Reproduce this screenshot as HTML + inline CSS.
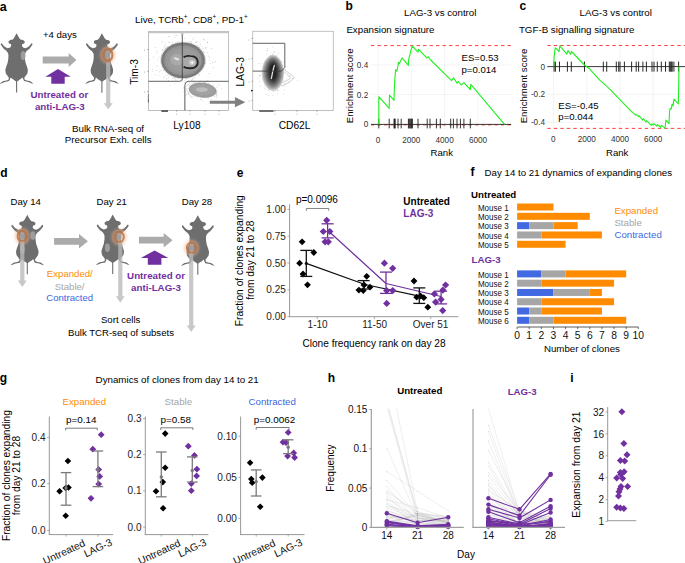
<!DOCTYPE html>
<html><head><meta charset="utf-8"><style>
html,body{margin:0;padding:0;background:#fff;}
svg{display:block;}
text{font-family:"Liberation Sans", sans-serif;}
</style></head><body>
<svg width="685" height="563" viewBox="0 0 685 563">
<defs><filter id="blur" x="-50%" y="-50%" width="200%" height="200%"><feGaussianBlur stdDeviation="0.5"/></filter><filter id="blur2" x="-50%" y="-50%" width="200%" height="200%"><feGaussianBlur stdDeviation="1.5"/></filter><filter id="blur3" x="-50%" y="-50%" width="200%" height="200%"><feGaussianBlur stdDeviation="0.75"/></filter></defs>
<rect width="685" height="563" fill="#fff"/>
<text x="-0.2" y="11.2" font-size="12.5" font-weight="700" fill="#000" text-anchor="start">a</text>
<path d="M16.60,33.20 L18.10,35.95 L19.35,38.20 L20.80,39.70 L22.10,39.80 L23.30,40.20 L24.40,41.00 L24.80,42.10 L24.30,43.20 L23.60,43.70 L22.30,44.10 L22.00,45.20 L22.20,46.20 L23.00,47.40 L25.60,48.20 L28.10,47.00 L29.80,45.40 L31.00,43.70 L31.90,43.20 L32.50,44.00 L32.30,45.10 L31.50,46.10 L29.30,48.90 L26.80,50.80 L25.60,52.50 L24.80,54.20 L24.80,58.00 L25.50,62.50 L27.00,66.70 L27.90,70.00 L27.40,73.40 L25.50,76.10 L24.40,77.50 L24.60,79.50 L26.60,80.40 L29.80,80.90 L31.80,82.20 L33.30,83.70 L31.90,83.50 L28.40,82.00 L24.10,81.10 L23.00,78.80 L22.60,77.50 L20.60,79.10 L18.50,80.50 L17.15,81.40 L17.15,92.60 L16.05,92.60 L16.05,81.40 L14.70,80.50 L12.60,79.10 L10.60,77.50 L10.20,78.80 L9.10,81.10 L4.80,82.00 L1.30,83.50 L-0.10,83.70 L1.40,82.20 L3.40,80.90 L6.60,80.40 L8.60,79.50 L8.80,77.50 L7.70,76.10 L5.80,73.40 L5.30,70.00 L6.20,66.70 L7.70,62.50 L8.40,58.00 L8.40,54.20 L7.60,52.50 L6.40,50.80 L3.90,48.90 L1.70,46.10 L0.90,45.10 L0.70,44.00 L1.30,43.20 L2.20,43.70 L3.40,45.40 L5.10,47.00 L7.60,48.20 L10.20,47.40 L11.00,46.20 L11.20,45.20 L10.90,44.10 L9.60,43.70 L8.90,43.20 L8.40,42.10 L8.80,41.00 L9.90,40.20 L11.10,39.80 L12.40,39.70 L13.85,38.20 L15.10,35.95 L16.60,33.20Z" fill="#6e6e6e"/>
<ellipse cx="23.1" cy="55.6" rx="2.4" ry="4.5" fill="#9d9d9d"/>
<text x="42.9" y="38.3" font-size="9.6" font-weight="400" fill="#000" text-anchor="start">+4 days</text>
<polygon points="42.70,56.60 68.70,56.60 68.70,53.10 76.40,60.10 68.70,67.10 68.70,63.60 42.70,63.60" fill="#ababab"/>
<polygon points="51.30,83.70 64.70,83.70 64.70,76.70 70.70,76.70 58.00,69.00 45.30,76.70 51.30,76.70" fill="#7030a0"/>
<text x="59.4" y="97.6" font-size="9.75" font-weight="700" fill="#7030a0" text-anchor="middle">Untreated or</text>
<text x="59.8" y="109.5" font-size="9.75" font-weight="700" fill="#7030a0" text-anchor="middle">anti-LAG-3</text>
<path d="M101.90,33.30 L103.40,36.05 L104.65,38.30 L106.10,39.80 L107.40,39.90 L108.60,40.30 L109.70,41.10 L110.10,42.20 L109.60,43.30 L108.90,43.80 L107.60,44.20 L107.30,45.30 L107.50,46.30 L108.30,47.50 L110.90,48.30 L113.40,47.10 L115.10,45.50 L116.30,43.80 L117.20,43.30 L117.80,44.10 L117.60,45.20 L116.80,46.20 L114.60,49.00 L112.10,50.90 L110.90,52.60 L110.10,54.30 L110.10,58.10 L110.80,62.60 L112.30,66.80 L113.20,70.10 L112.70,73.50 L110.80,76.20 L109.70,77.60 L109.90,79.60 L111.90,80.50 L115.10,81.00 L117.10,82.30 L118.60,83.80 L117.20,83.60 L113.70,82.10 L109.40,81.20 L108.30,78.90 L107.90,77.60 L105.90,79.20 L103.80,80.60 L102.45,81.50 L102.45,92.70 L101.35,92.70 L101.35,81.50 L100.00,80.60 L97.90,79.20 L95.90,77.60 L95.50,78.90 L94.40,81.20 L90.10,82.10 L86.60,83.60 L85.20,83.80 L86.70,82.30 L88.70,81.00 L91.90,80.50 L93.90,79.60 L94.10,77.60 L93.00,76.20 L91.10,73.50 L90.60,70.10 L91.50,66.80 L93.00,62.60 L93.70,58.10 L93.70,54.30 L92.90,52.60 L91.70,50.90 L89.20,49.00 L87.00,46.20 L86.20,45.20 L86.00,44.10 L86.60,43.30 L87.50,43.80 L88.70,45.50 L90.40,47.10 L92.90,48.30 L95.50,47.50 L96.30,46.30 L96.50,45.30 L96.20,44.20 L94.90,43.80 L94.20,43.30 L93.70,42.20 L94.10,41.10 L95.20,40.30 L96.40,39.90 L97.70,39.80 L99.15,38.30 L100.40,36.05 L101.90,33.30Z" fill="#6e6e6e"/>
<ellipse cx="107.7" cy="55.1" rx="2.6" ry="4.5" fill="#9d9d9d"/>
<ellipse cx="107.7" cy="55.0" rx="5.5" ry="6.8" fill="none" stroke="#eeb088" stroke-width="4.0" stroke-opacity="0.6" filter="url(#blur2)"/>
<ellipse cx="107.7" cy="55.0" rx="4.7" ry="6.0" fill="none" stroke="#bb7344" stroke-width="2.1" stroke-opacity="0.85" filter="url(#blur3)"/>
<polygon points="106.10,62.60 110.30,62.60 110.30,103.20 112.70,103.20 108.20,109.20 103.70,103.20 106.10,103.20" fill="#b8b8b8" fill-opacity="0.78"/>
<text x="108.0" y="132.0" font-size="9.75" font-weight="400" fill="#000" text-anchor="middle">Bulk RNA-seq of</text>
<text x="108.2" y="142.8" font-size="9.75" font-weight="400" fill="#000" text-anchor="middle">Precursor Exh. cells</text>
<text x="135.0" y="22.8" font-size="9.8" font-weight="400" fill="#000" text-anchor="start">Live, TCRb<tspan font-size="6.3" dy="-3.8">+</tspan><tspan dy="3.8">, CD8</tspan><tspan font-size="6.3" dy="-3.8">+</tspan><tspan dy="3.8">, PD-1</tspan><tspan font-size="6.3" dy="-3.8">+</tspan></text>
<rect x="148.5" y="31.3" width="80.2" height="79" fill="none" stroke="#9a9a9a" stroke-width="0.6"/>
<rect x="148.50" y="31.10" width="80.20" height="2.10" fill="#c4c4c4"/>
<circle cx="185.04" cy="82.39" r="0.35" fill="#555" fill-opacity="0.7"/>
<circle cx="163.99" cy="76.98" r="0.35" fill="#555" fill-opacity="0.7"/>
<circle cx="167.03" cy="47.56" r="0.35" fill="#555" fill-opacity="0.7"/>
<circle cx="214.02" cy="62.68" r="0.35" fill="#555" fill-opacity="0.7"/>
<circle cx="181.60" cy="79.80" r="0.35" fill="#555" fill-opacity="0.7"/>
<circle cx="209.12" cy="60.02" r="0.35" fill="#555" fill-opacity="0.7"/>
<circle cx="196.54" cy="42.46" r="0.35" fill="#555" fill-opacity="0.7"/>
<circle cx="168.13" cy="46.24" r="0.35" fill="#555" fill-opacity="0.7"/>
<circle cx="162.08" cy="41.44" r="0.35" fill="#555" fill-opacity="0.7"/>
<circle cx="153.63" cy="57.12" r="0.35" fill="#555" fill-opacity="0.7"/>
<circle cx="172.25" cy="44.44" r="0.35" fill="#555" fill-opacity="0.7"/>
<circle cx="184.43" cy="38.29" r="0.35" fill="#555" fill-opacity="0.7"/>
<circle cx="175.86" cy="77.91" r="0.35" fill="#555" fill-opacity="0.7"/>
<circle cx="200.36" cy="44.78" r="0.35" fill="#555" fill-opacity="0.7"/>
<circle cx="176.82" cy="35.39" r="0.35" fill="#555" fill-opacity="0.7"/>
<circle cx="175.75" cy="35.02" r="0.35" fill="#555" fill-opacity="0.7"/>
<circle cx="158.85" cy="75.76" r="0.35" fill="#555" fill-opacity="0.7"/>
<circle cx="152.28" cy="69.61" r="0.35" fill="#555" fill-opacity="0.7"/>
<circle cx="199.54" cy="47.86" r="0.35" fill="#555" fill-opacity="0.7"/>
<circle cx="198.52" cy="75.02" r="0.35" fill="#555" fill-opacity="0.7"/>
<circle cx="208.14" cy="56.12" r="0.35" fill="#555" fill-opacity="0.7"/>
<circle cx="165.96" cy="46.52" r="0.35" fill="#555" fill-opacity="0.7"/>
<circle cx="157.83" cy="59.67" r="0.35" fill="#555" fill-opacity="0.7"/>
<circle cx="166.69" cy="78.54" r="0.35" fill="#555" fill-opacity="0.7"/>
<circle cx="155.23" cy="47.46" r="0.35" fill="#555" fill-opacity="0.7"/>
<circle cx="169.50" cy="36.62" r="0.35" fill="#555" fill-opacity="0.7"/>
<circle cx="203.83" cy="39.27" r="0.35" fill="#555" fill-opacity="0.7"/>
<circle cx="171.97" cy="44.05" r="0.35" fill="#555" fill-opacity="0.7"/>
<circle cx="204.24" cy="40.00" r="0.35" fill="#555" fill-opacity="0.7"/>
<circle cx="205.57" cy="48.14" r="0.35" fill="#555" fill-opacity="0.7"/>
<circle cx="177.68" cy="42.01" r="0.35" fill="#555" fill-opacity="0.7"/>
<circle cx="196.44" cy="41.30" r="0.35" fill="#555" fill-opacity="0.7"/>
<circle cx="178.06" cy="78.50" r="0.35" fill="#555" fill-opacity="0.7"/>
<circle cx="203.40" cy="39.03" r="0.35" fill="#555" fill-opacity="0.7"/>
<circle cx="208.95" cy="73.65" r="0.35" fill="#555" fill-opacity="0.7"/>
<circle cx="163.41" cy="70.59" r="0.35" fill="#555" fill-opacity="0.7"/>
<circle cx="174.81" cy="84.01" r="0.35" fill="#555" fill-opacity="0.7"/>
<circle cx="198.76" cy="47.49" r="0.35" fill="#555" fill-opacity="0.7"/>
<circle cx="166.00" cy="48.55" r="0.35" fill="#555" fill-opacity="0.7"/>
<circle cx="178.15" cy="41.06" r="0.35" fill="#555" fill-opacity="0.7"/>
<circle cx="207.50" cy="42.20" r="0.35" fill="#555" fill-opacity="0.7"/>
<circle cx="149.29" cy="59.67" r="0.35" fill="#555" fill-opacity="0.7"/>
<circle cx="174.67" cy="77.72" r="0.35" fill="#555" fill-opacity="0.7"/>
<circle cx="164.73" cy="49.89" r="0.35" fill="#555" fill-opacity="0.7"/>
<circle cx="191.26" cy="80.06" r="0.35" fill="#555" fill-opacity="0.7"/>
<circle cx="165.17" cy="48.60" r="0.35" fill="#555" fill-opacity="0.7"/>
<circle cx="213.48" cy="67.33" r="0.35" fill="#555" fill-opacity="0.7"/>
<circle cx="170.09" cy="85.22" r="0.35" fill="#555" fill-opacity="0.7"/>
<circle cx="203.00" cy="48.32" r="0.35" fill="#555" fill-opacity="0.7"/>
<circle cx="157.10" cy="65.92" r="0.35" fill="#555" fill-opacity="0.7"/>
<circle cx="165.89" cy="43.01" r="0.35" fill="#555" fill-opacity="0.7"/>
<circle cx="156.92" cy="52.36" r="0.35" fill="#555" fill-opacity="0.7"/>
<circle cx="207.73" cy="52.77" r="0.35" fill="#555" fill-opacity="0.7"/>
<circle cx="156.33" cy="70.56" r="0.35" fill="#555" fill-opacity="0.7"/>
<circle cx="184.89" cy="80.24" r="0.35" fill="#555" fill-opacity="0.7"/>
<circle cx="209.47" cy="57.59" r="0.35" fill="#555" fill-opacity="0.7"/>
<circle cx="161.52" cy="55.14" r="0.35" fill="#555" fill-opacity="0.7"/>
<circle cx="159.34" cy="71.89" r="0.35" fill="#555" fill-opacity="0.7"/>
<circle cx="210.71" cy="63.44" r="0.35" fill="#555" fill-opacity="0.7"/>
<circle cx="167.71" cy="47.06" r="0.35" fill="#555" fill-opacity="0.7"/>
<circle cx="164.83" cy="45.46" r="0.35" fill="#555" fill-opacity="0.7"/>
<circle cx="172.32" cy="42.45" r="0.35" fill="#555" fill-opacity="0.7"/>
<circle cx="175.08" cy="37.50" r="0.35" fill="#555" fill-opacity="0.7"/>
<circle cx="205.45" cy="63.15" r="0.35" fill="#555" fill-opacity="0.7"/>
<circle cx="168.15" cy="36.64" r="0.35" fill="#555" fill-opacity="0.7"/>
<circle cx="182.82" cy="81.60" r="0.35" fill="#555" fill-opacity="0.7"/>
<circle cx="162.51" cy="49.69" r="0.35" fill="#555" fill-opacity="0.7"/>
<circle cx="166.94" cy="75.53" r="0.35" fill="#555" fill-opacity="0.7"/>
<circle cx="164.17" cy="77.00" r="0.35" fill="#555" fill-opacity="0.7"/>
<circle cx="175.18" cy="79.90" r="0.35" fill="#555" fill-opacity="0.7"/>
<circle cx="186.15" cy="42.54" r="0.35" fill="#555" fill-opacity="0.7"/>
<circle cx="156.17" cy="50.51" r="0.35" fill="#555" fill-opacity="0.7"/>
<circle cx="174.28" cy="78.41" r="0.35" fill="#555" fill-opacity="0.7"/>
<circle cx="190.90" cy="42.43" r="0.35" fill="#555" fill-opacity="0.7"/>
<circle cx="192.86" cy="79.82" r="0.35" fill="#555" fill-opacity="0.7"/>
<circle cx="175.67" cy="43.08" r="0.35" fill="#555" fill-opacity="0.7"/>
<circle cx="172.22" cy="78.55" r="0.35" fill="#555" fill-opacity="0.7"/>
<circle cx="195.91" cy="42.56" r="0.35" fill="#555" fill-opacity="0.7"/>
<circle cx="197.33" cy="45.76" r="0.35" fill="#555" fill-opacity="0.7"/>
<circle cx="168.28" cy="80.25" r="0.35" fill="#555" fill-opacity="0.7"/>
<circle cx="202.42" cy="46.73" r="0.35" fill="#555" fill-opacity="0.7"/>
<circle cx="186.59" cy="78.95" r="0.35" fill="#555" fill-opacity="0.7"/>
<circle cx="159.97" cy="57.09" r="0.35" fill="#555" fill-opacity="0.7"/>
<circle cx="193.87" cy="37.00" r="0.35" fill="#555" fill-opacity="0.7"/>
<circle cx="192.79" cy="78.46" r="0.35" fill="#555" fill-opacity="0.7"/>
<circle cx="192.95" cy="39.18" r="0.35" fill="#555" fill-opacity="0.7"/>
<circle cx="191.58" cy="41.79" r="0.35" fill="#555" fill-opacity="0.7"/>
<circle cx="199.65" cy="74.89" r="0.35" fill="#555" fill-opacity="0.7"/>
<circle cx="189.55" cy="41.85" r="0.35" fill="#555" fill-opacity="0.7"/>
<circle cx="168.47" cy="77.58" r="0.35" fill="#555" fill-opacity="0.7"/>
<circle cx="160.72" cy="70.54" r="0.35" fill="#555" fill-opacity="0.7"/>
<circle cx="203.37" cy="51.63" r="0.35" fill="#555" fill-opacity="0.7"/>
<circle cx="215.79" cy="61.38" r="0.35" fill="#555" fill-opacity="0.7"/>
<circle cx="207.44" cy="42.03" r="0.35" fill="#555" fill-opacity="0.7"/>
<circle cx="152.84" cy="71.27" r="0.35" fill="#555" fill-opacity="0.7"/>
<circle cx="204.25" cy="52.16" r="0.35" fill="#555" fill-opacity="0.7"/>
<circle cx="182.12" cy="35.45" r="0.35" fill="#555" fill-opacity="0.7"/>
<circle cx="169.12" cy="42.15" r="0.35" fill="#555" fill-opacity="0.7"/>
<circle cx="176.99" cy="80.01" r="0.35" fill="#555" fill-opacity="0.7"/>
<circle cx="186.20" cy="78.78" r="0.35" fill="#555" fill-opacity="0.7"/>
<circle cx="162.43" cy="50.24" r="0.35" fill="#555" fill-opacity="0.7"/>
<circle cx="191.35" cy="43.61" r="0.35" fill="#555" fill-opacity="0.7"/>
<circle cx="206.84" cy="47.25" r="0.35" fill="#555" fill-opacity="0.7"/>
<circle cx="211.45" cy="48.66" r="0.35" fill="#555" fill-opacity="0.7"/>
<circle cx="205.16" cy="47.52" r="0.35" fill="#555" fill-opacity="0.7"/>
<circle cx="212.64" cy="62.58" r="0.35" fill="#555" fill-opacity="0.7"/>
<circle cx="194.48" cy="77.97" r="0.35" fill="#555" fill-opacity="0.7"/>
<circle cx="169.06" cy="42.10" r="0.35" fill="#555" fill-opacity="0.7"/>
<circle cx="154.95" cy="74.26" r="0.35" fill="#555" fill-opacity="0.7"/>
<circle cx="164.15" cy="47.63" r="0.35" fill="#555" fill-opacity="0.7"/>
<circle cx="202.30" cy="100.84" r="0.35" fill="#555" fill-opacity="0.7"/>
<circle cx="183.95" cy="91.66" r="0.35" fill="#555" fill-opacity="0.7"/>
<circle cx="193.87" cy="96.56" r="0.35" fill="#555" fill-opacity="0.7"/>
<circle cx="183.88" cy="87.95" r="0.35" fill="#555" fill-opacity="0.7"/>
<circle cx="211.58" cy="99.25" r="0.35" fill="#555" fill-opacity="0.7"/>
<circle cx="219.41" cy="85.31" r="0.35" fill="#555" fill-opacity="0.7"/>
<circle cx="208.84" cy="83.39" r="0.35" fill="#555" fill-opacity="0.7"/>
<circle cx="189.05" cy="82.50" r="0.35" fill="#555" fill-opacity="0.7"/>
<circle cx="216.86" cy="92.71" r="0.35" fill="#555" fill-opacity="0.7"/>
<circle cx="200.66" cy="99.19" r="0.35" fill="#555" fill-opacity="0.7"/>
<circle cx="188.19" cy="94.31" r="0.35" fill="#555" fill-opacity="0.7"/>
<circle cx="204.92" cy="82.70" r="0.35" fill="#555" fill-opacity="0.7"/>
<circle cx="216.07" cy="92.82" r="0.35" fill="#555" fill-opacity="0.7"/>
<circle cx="212.61" cy="95.61" r="0.35" fill="#555" fill-opacity="0.7"/>
<circle cx="221.88" cy="88.52" r="0.35" fill="#555" fill-opacity="0.7"/>
<circle cx="216.73" cy="94.81" r="0.35" fill="#555" fill-opacity="0.7"/>
<circle cx="196.47" cy="97.77" r="0.35" fill="#555" fill-opacity="0.7"/>
<circle cx="192.11" cy="97.90" r="0.35" fill="#555" fill-opacity="0.7"/>
<circle cx="189.32" cy="85.84" r="0.35" fill="#555" fill-opacity="0.7"/>
<circle cx="208.14" cy="97.95" r="0.35" fill="#555" fill-opacity="0.7"/>
<circle cx="214.64" cy="96.64" r="0.35" fill="#555" fill-opacity="0.7"/>
<circle cx="199.29" cy="81.90" r="0.35" fill="#555" fill-opacity="0.7"/>
<circle cx="215.34" cy="94.00" r="0.35" fill="#555" fill-opacity="0.7"/>
<circle cx="190.51" cy="96.91" r="0.35" fill="#555" fill-opacity="0.7"/>
<circle cx="205.78" cy="81.89" r="0.35" fill="#555" fill-opacity="0.7"/>
<circle cx="208.11" cy="81.22" r="0.35" fill="#555" fill-opacity="0.7"/>
<circle cx="188.43" cy="93.73" r="0.35" fill="#555" fill-opacity="0.7"/>
<circle cx="184.48" cy="90.44" r="0.35" fill="#555" fill-opacity="0.7"/>
<circle cx="186.76" cy="94.89" r="0.35" fill="#555" fill-opacity="0.7"/>
<circle cx="188.20" cy="92.16" r="0.35" fill="#555" fill-opacity="0.7"/>
<circle cx="185.00" cy="88.01" r="0.35" fill="#555" fill-opacity="0.7"/>
<circle cx="216.95" cy="93.96" r="0.35" fill="#555" fill-opacity="0.7"/>
<circle cx="184.93" cy="95.02" r="0.35" fill="#555" fill-opacity="0.7"/>
<circle cx="216.98" cy="86.91" r="0.35" fill="#555" fill-opacity="0.7"/>
<circle cx="217.76" cy="84.05" r="0.35" fill="#555" fill-opacity="0.7"/>
<circle cx="201.36" cy="98.98" r="0.35" fill="#555" fill-opacity="0.7"/>
<circle cx="216.29" cy="97.46" r="0.35" fill="#555" fill-opacity="0.7"/>
<circle cx="192.21" cy="81.02" r="0.35" fill="#555" fill-opacity="0.7"/>
<circle cx="207.30" cy="80.87" r="0.35" fill="#555" fill-opacity="0.7"/>
<circle cx="200.87" cy="81.04" r="0.35" fill="#555" fill-opacity="0.7"/>
<circle cx="216.28" cy="95.82" r="0.35" fill="#555" fill-opacity="0.7"/>
<circle cx="216.97" cy="90.44" r="0.35" fill="#555" fill-opacity="0.7"/>
<circle cx="204.74" cy="82.65" r="0.35" fill="#555" fill-opacity="0.7"/>
<circle cx="214.52" cy="94.41" r="0.35" fill="#555" fill-opacity="0.7"/>
<circle cx="213.22" cy="84.82" r="0.35" fill="#555" fill-opacity="0.7"/>
<ellipse cx="183" cy="60.4" rx="23.0" ry="18.8" fill="#000" fill-opacity="0.10" filter="url(#blur)"/>
<ellipse cx="183" cy="60.4" rx="21.8" ry="17.7" fill="#9c9c9c"/>
<ellipse cx="183" cy="60.4" rx="20.2" ry="16.4" fill="none" stroke="#858585" stroke-width="2.6"/>
<ellipse cx="183.3" cy="60.4" rx="21.6" ry="17.5" fill="none" stroke="#707070" stroke-width="0.45"/>
<ellipse cx="183.3" cy="60.4" rx="20.6" ry="16.7" fill="none" stroke="#666" stroke-width="0.4"/>
<ellipse cx="183.3" cy="60.4" rx="19.5" ry="15.8" fill="none" stroke="#6e6e6e" stroke-width="0.4"/>
<ellipse cx="183.3" cy="60.4" rx="18.3" ry="14.8" fill="none" stroke="#777" stroke-width="0.4"/>
<ellipse cx="183.3" cy="60.4" rx="16.8" ry="13.6" fill="none" stroke="#808080" stroke-width="0.35"/>
<ellipse cx="183.3" cy="60.4" rx="15.0" ry="12.2" fill="none" stroke="#888" stroke-width="0.3"/>
<ellipse cx="177.2" cy="59.6" rx="6.8" ry="5.6" fill="#b0b0b0" fill-opacity="0.7" filter="url(#blur)"/>
<ellipse cx="176.5" cy="58.8" rx="3.0" ry="1.2" fill="#ececec" fill-opacity="0.85" transform="rotate(20 176.5 58.8)"/>
<path d="M183.6,57.2 Q186,55.6 190,55.9 Q197.6,56.3 197.8,62.2 Q197.6,68.2 190.5,68.3 Q186,68.4 183.6,66.8" fill="#a9a9a9" stroke="#232323" stroke-width="1.9"/>
<ellipse cx="192" cy="62.4" rx="3.2" ry="2.6" fill="#c8c8c8"/>
<ellipse cx="192.2" cy="62.6" rx="1.3" ry="1.1" fill="#fff"/>
<ellipse cx="202.6" cy="90.2" rx="14.2" ry="7.6" fill="#000" fill-opacity="0.08" filter="url(#blur)" transform="rotate(6 202.6 90.2)"/>
<ellipse cx="202.6" cy="90.2" rx="13.6" ry="7.1" fill="#a2a2a2" stroke="#888" stroke-width="0.5" transform="rotate(6 202.6 90.2)"/>
<ellipse cx="202.4" cy="89.9" rx="12.4" ry="6.3" fill="none" stroke="#909090" stroke-width="0.35" transform="rotate(6 202.6 90.2)"/>
<ellipse cx="202.4" cy="89.9" rx="11.0" ry="5.4" fill="none" stroke="#999" stroke-width="0.35" transform="rotate(6 202.6 90.2)"/>
<ellipse cx="202.4" cy="89.9" rx="9.4" ry="4.4" fill="none" stroke="#a5a5a5" stroke-width="0.35" transform="rotate(6 202.6 90.2)"/>
<ellipse cx="201.8" cy="89.6" rx="6" ry="2.4" fill="#c4c4c4" fill-opacity="0.8"/>
<path d="M186,86 Q190,83 196,82.3 M187,88 Q186,93 192,97" fill="none" stroke="#aaa" stroke-width="0.35"/>
<line x1="182.30" y1="33.20" x2="182.30" y2="78.90" stroke="#3a3a3a" stroke-width="0.8"/>
<path d="M182.3,78.9 Q182.3,81.3 179.5,81.3 L148.5,81.3" fill="none" stroke="#3a3a3a" stroke-width="0.8"/>
<path d="M228.7,81.3 L188,81.3 Q184.8,81.8 184.8,85.5 L184.8,110.3" fill="none" stroke="#3a3a3a" stroke-width="0.8"/>
<line x1="184.80" y1="86.00" x2="184.80" y2="110.30" stroke="#999" stroke-width="0.8"/>
<path d="M181.2,33.2 L182.3,35.8 L183.4,33.2" fill="#fff" stroke="#777" stroke-width="0.5"/>
<line x1="147.20" y1="49.40" x2="148.50" y2="49.40" stroke="#555" stroke-width="0.5"/>
<line x1="147.20" y1="71.20" x2="148.50" y2="71.20" stroke="#555" stroke-width="0.5"/>
<line x1="147.20" y1="91.40" x2="148.50" y2="91.40" stroke="#555" stroke-width="0.5"/>
<line x1="147.80" y1="95.00" x2="149.00" y2="95.00" stroke="#222" stroke-width="0.7"/>
<line x1="147.80" y1="97.00" x2="149.00" y2="97.00" stroke="#222" stroke-width="0.7"/>
<line x1="147.80" y1="99.00" x2="149.00" y2="99.00" stroke="#222" stroke-width="0.7"/>
<line x1="147.80" y1="100.50" x2="149.00" y2="100.50" stroke="#222" stroke-width="0.7"/>
<line x1="147.80" y1="102.00" x2="149.00" y2="102.00" stroke="#222" stroke-width="0.7"/>
<line x1="161.80" y1="110.30" x2="161.80" y2="111.60" stroke="#555" stroke-width="0.5"/>
<line x1="176.60" y1="110.30" x2="176.60" y2="111.60" stroke="#555" stroke-width="0.5"/>
<line x1="190.00" y1="110.30" x2="190.00" y2="111.60" stroke="#555" stroke-width="0.5"/>
<line x1="205.00" y1="110.30" x2="205.00" y2="111.60" stroke="#555" stroke-width="0.5"/>
<line x1="219.00" y1="110.30" x2="219.00" y2="111.60" stroke="#555" stroke-width="0.5"/>
<rect x="161.50" y="110.40" width="6.50" height="1.30" fill="#222"/>
<line x1="150.00" y1="110.30" x2="150.00" y2="111.00" stroke="#888" stroke-width="0.3"/>
<line x1="153.00" y1="110.30" x2="153.00" y2="111.00" stroke="#888" stroke-width="0.3"/>
<line x1="156.00" y1="110.30" x2="156.00" y2="111.00" stroke="#888" stroke-width="0.3"/>
<line x1="159.00" y1="110.30" x2="159.00" y2="111.00" stroke="#888" stroke-width="0.3"/>
<line x1="162.00" y1="110.30" x2="162.00" y2="111.00" stroke="#888" stroke-width="0.3"/>
<line x1="165.00" y1="110.30" x2="165.00" y2="111.00" stroke="#888" stroke-width="0.3"/>
<line x1="168.00" y1="110.30" x2="168.00" y2="111.00" stroke="#888" stroke-width="0.3"/>
<line x1="171.00" y1="110.30" x2="171.00" y2="111.00" stroke="#888" stroke-width="0.3"/>
<line x1="174.00" y1="110.30" x2="174.00" y2="111.00" stroke="#888" stroke-width="0.3"/>
<line x1="177.00" y1="110.30" x2="177.00" y2="111.00" stroke="#888" stroke-width="0.3"/>
<line x1="180.00" y1="110.30" x2="180.00" y2="111.00" stroke="#888" stroke-width="0.3"/>
<line x1="183.00" y1="110.30" x2="183.00" y2="111.00" stroke="#888" stroke-width="0.3"/>
<line x1="186.00" y1="110.30" x2="186.00" y2="111.00" stroke="#888" stroke-width="0.3"/>
<line x1="189.00" y1="110.30" x2="189.00" y2="111.00" stroke="#888" stroke-width="0.3"/>
<line x1="192.00" y1="110.30" x2="192.00" y2="111.00" stroke="#888" stroke-width="0.3"/>
<line x1="195.00" y1="110.30" x2="195.00" y2="111.00" stroke="#888" stroke-width="0.3"/>
<line x1="198.00" y1="110.30" x2="198.00" y2="111.00" stroke="#888" stroke-width="0.3"/>
<line x1="201.00" y1="110.30" x2="201.00" y2="111.00" stroke="#888" stroke-width="0.3"/>
<line x1="204.00" y1="110.30" x2="204.00" y2="111.00" stroke="#888" stroke-width="0.3"/>
<line x1="207.00" y1="110.30" x2="207.00" y2="111.00" stroke="#888" stroke-width="0.3"/>
<line x1="210.00" y1="110.30" x2="210.00" y2="111.00" stroke="#888" stroke-width="0.3"/>
<line x1="213.00" y1="110.30" x2="213.00" y2="111.00" stroke="#888" stroke-width="0.3"/>
<line x1="216.00" y1="110.30" x2="216.00" y2="111.00" stroke="#888" stroke-width="0.3"/>
<line x1="219.00" y1="110.30" x2="219.00" y2="111.00" stroke="#888" stroke-width="0.3"/>
<line x1="222.00" y1="110.30" x2="222.00" y2="111.00" stroke="#888" stroke-width="0.3"/>
<line x1="225.00" y1="110.30" x2="225.00" y2="111.00" stroke="#888" stroke-width="0.3"/>
<polygon points="209.80,100.70 234.90,100.70 234.90,97.10 245.40,102.20 234.90,107.30 234.90,103.70 209.80,103.70" fill="#808080"/>
<rect x="252.8" y="31.2" width="80.4" height="79.2" fill="none" stroke="#9a9a9a" stroke-width="0.6"/>
<circle cx="288.08" cy="76.67" r="0.35" fill="#555" fill-opacity="0.7"/>
<circle cx="284.04" cy="90.24" r="0.35" fill="#555" fill-opacity="0.7"/>
<circle cx="265.97" cy="50.94" r="0.35" fill="#555" fill-opacity="0.7"/>
<circle cx="285.83" cy="66.53" r="0.35" fill="#555" fill-opacity="0.7"/>
<circle cx="276.33" cy="55.78" r="0.35" fill="#555" fill-opacity="0.7"/>
<circle cx="274.42" cy="51.84" r="0.35" fill="#555" fill-opacity="0.7"/>
<circle cx="270.57" cy="55.12" r="0.35" fill="#555" fill-opacity="0.7"/>
<circle cx="272.90" cy="46.87" r="0.35" fill="#555" fill-opacity="0.7"/>
<circle cx="284.14" cy="80.37" r="0.35" fill="#555" fill-opacity="0.7"/>
<circle cx="259.06" cy="63.30" r="0.35" fill="#555" fill-opacity="0.7"/>
<circle cx="273.56" cy="91.66" r="0.35" fill="#555" fill-opacity="0.7"/>
<circle cx="273.00" cy="95.35" r="0.35" fill="#555" fill-opacity="0.7"/>
<circle cx="273.28" cy="52.78" r="0.35" fill="#555" fill-opacity="0.7"/>
<circle cx="264.67" cy="87.98" r="0.35" fill="#555" fill-opacity="0.7"/>
<circle cx="265.64" cy="89.51" r="0.35" fill="#555" fill-opacity="0.7"/>
<circle cx="284.21" cy="83.58" r="0.35" fill="#555" fill-opacity="0.7"/>
<circle cx="285.28" cy="69.57" r="0.35" fill="#555" fill-opacity="0.7"/>
<circle cx="272.82" cy="54.42" r="0.35" fill="#555" fill-opacity="0.7"/>
<circle cx="267.69" cy="50.72" r="0.35" fill="#555" fill-opacity="0.7"/>
<circle cx="266.99" cy="54.05" r="0.35" fill="#555" fill-opacity="0.7"/>
<circle cx="259.24" cy="75.31" r="0.35" fill="#555" fill-opacity="0.7"/>
<circle cx="282.05" cy="61.87" r="0.35" fill="#555" fill-opacity="0.7"/>
<circle cx="285.00" cy="86.50" r="0.35" fill="#555" fill-opacity="0.7"/>
<circle cx="284.30" cy="62.32" r="0.35" fill="#555" fill-opacity="0.7"/>
<circle cx="259.56" cy="81.23" r="0.35" fill="#555" fill-opacity="0.7"/>
<circle cx="277.60" cy="90.71" r="0.35" fill="#555" fill-opacity="0.7"/>
<circle cx="277.23" cy="93.92" r="0.35" fill="#555" fill-opacity="0.7"/>
<circle cx="268.40" cy="90.45" r="0.35" fill="#555" fill-opacity="0.7"/>
<circle cx="267.17" cy="48.41" r="0.35" fill="#555" fill-opacity="0.7"/>
<circle cx="268.95" cy="95.37" r="0.35" fill="#555" fill-opacity="0.7"/>
<circle cx="259.89" cy="86.02" r="0.35" fill="#555" fill-opacity="0.7"/>
<circle cx="262.86" cy="63.24" r="0.35" fill="#555" fill-opacity="0.7"/>
<circle cx="275.23" cy="90.66" r="0.35" fill="#555" fill-opacity="0.7"/>
<circle cx="260.80" cy="75.59" r="0.35" fill="#555" fill-opacity="0.7"/>
<circle cx="278.72" cy="90.61" r="0.35" fill="#555" fill-opacity="0.7"/>
<circle cx="266.55" cy="94.70" r="0.35" fill="#555" fill-opacity="0.7"/>
<circle cx="283.18" cy="94.10" r="0.35" fill="#555" fill-opacity="0.7"/>
<circle cx="259.56" cy="75.84" r="0.35" fill="#555" fill-opacity="0.7"/>
<circle cx="258.11" cy="77.96" r="0.35" fill="#555" fill-opacity="0.7"/>
<circle cx="278.78" cy="53.42" r="0.35" fill="#555" fill-opacity="0.7"/>
<circle cx="287" cy="79" r="0.35" fill="#555"/>
<circle cx="290" cy="76" r="0.35" fill="#555"/>
<circle cx="293" cy="78" r="0.35" fill="#555"/>
<circle cx="286" cy="84" r="0.35" fill="#555"/>
<circle cx="289" cy="82" r="0.35" fill="#555"/>
<circle cx="298" cy="80" r="0.35" fill="#555"/>
<circle cx="283" cy="86" r="0.35" fill="#555"/>
<path d="M281,68 Q294,76 294.3,77.6 Q290,83 281,86" fill="none" stroke="#888" stroke-width="0.4"/>
<path d="M281,70 Q290,76 291,78 Q288,81 281,83" fill="none" stroke="#999" stroke-width="0.4"/>
<ellipse cx="272.90" cy="72.90" rx="10.70" ry="17.70" fill="#000" fill-opacity="0.12" stroke="rgb(150,150,150)" stroke-width="0.4"/>
<ellipse cx="272.93" cy="72.76" rx="9.85" ry="16.59" fill="#000" fill-opacity="0.12" stroke="rgb(140,140,140)" stroke-width="0.4"/>
<ellipse cx="272.96" cy="72.64" rx="9.12" ry="15.62" fill="#000" fill-opacity="0.12" stroke="rgb(130,130,130)" stroke-width="0.4"/>
<ellipse cx="272.98" cy="72.53" rx="8.43" ry="14.71" fill="#000" fill-opacity="0.12" stroke="rgb(120,120,120)" stroke-width="0.4"/>
<ellipse cx="273.00" cy="72.42" rx="7.76" ry="13.82" fill="#000" fill-opacity="0.12" stroke="rgb(110,110,110)" stroke-width="0.4"/>
<ellipse cx="273.03" cy="72.31" rx="7.10" ry="12.96" fill="#000" fill-opacity="0.12" stroke="rgb(100,100,100)" stroke-width="0.4"/>
<ellipse cx="273.05" cy="72.20" rx="6.46" ry="12.12" fill="#000" fill-opacity="0.12" stroke="rgb(90,90,90)" stroke-width="0.4"/>
<ellipse cx="273.07" cy="72.10" rx="5.83" ry="11.28" fill="#000" fill-opacity="0.12" stroke="rgb(80,80,80)" stroke-width="0.4"/>
<ellipse cx="273.09" cy="72.00" rx="5.21" ry="10.46" fill="#000" fill-opacity="0.12" stroke="rgb(70,70,70)" stroke-width="0.4"/>
<ellipse cx="273.12" cy="71.89" rx="4.59" ry="9.66" fill="#000" fill-opacity="0.12" stroke="rgb(60,60,60)" stroke-width="0.4"/>
<ellipse cx="273.14" cy="71.79" rx="3.99" ry="8.86" fill="#000" fill-opacity="0.12" stroke="rgb(50,50,50)" stroke-width="0.4"/>
<ellipse cx="273.16" cy="71.70" rx="3.39" ry="8.06" fill="#000" fill-opacity="0.12" stroke="rgb(40,40,40)" stroke-width="0.4"/>
<ellipse cx="273.18" cy="71.60" rx="2.79" ry="7.28" fill="#000" fill-opacity="0.12" stroke="rgb(30,30,30)" stroke-width="0.4"/>
<ellipse cx="273.20" cy="71.50" rx="2.20" ry="6.50" fill="#000" fill-opacity="0.12" stroke="rgb(20,20,20)" stroke-width="0.4"/>
<path d="M274.3,65.4 Q272.4,72 271.4,78.4" fill="none" stroke="#fff" stroke-opacity="0.85" stroke-width="1.3" stroke-linecap="round"/>
<path d="M252.8,43.3 L284.8,43.3 L284.8,67.5 L281.5,71.1 L252.8,71.1" fill="none" stroke="#3a3a3a" stroke-width="0.8"/>
<line x1="251.60" y1="38.50" x2="252.80" y2="38.50" stroke="#555" stroke-width="0.5"/>
<line x1="251.60" y1="58.40" x2="252.80" y2="58.40" stroke="#555" stroke-width="0.5"/>
<line x1="251.60" y1="81.40" x2="252.80" y2="81.40" stroke="#555" stroke-width="0.5"/>
<line x1="251.60" y1="100.70" x2="252.80" y2="100.70" stroke="#555" stroke-width="0.5"/>
<circle cx="251.9" cy="90.6" r="0.9" fill="#111"/>
<rect x="259.20" y="110.40" width="14.30" height="1.30" fill="#333"/>
<line x1="254.00" y1="110.40" x2="254.00" y2="111.10" stroke="#888" stroke-width="0.3"/>
<line x1="257.00" y1="110.40" x2="257.00" y2="111.10" stroke="#888" stroke-width="0.3"/>
<line x1="260.00" y1="110.40" x2="260.00" y2="111.10" stroke="#888" stroke-width="0.3"/>
<line x1="263.00" y1="110.40" x2="263.00" y2="111.10" stroke="#888" stroke-width="0.3"/>
<line x1="266.00" y1="110.40" x2="266.00" y2="111.10" stroke="#888" stroke-width="0.3"/>
<line x1="269.00" y1="110.40" x2="269.00" y2="111.10" stroke="#888" stroke-width="0.3"/>
<line x1="272.00" y1="110.40" x2="272.00" y2="111.10" stroke="#888" stroke-width="0.3"/>
<line x1="275.00" y1="110.40" x2="275.00" y2="111.10" stroke="#888" stroke-width="0.3"/>
<line x1="278.00" y1="110.40" x2="278.00" y2="111.10" stroke="#888" stroke-width="0.3"/>
<line x1="281.00" y1="110.40" x2="281.00" y2="111.10" stroke="#888" stroke-width="0.3"/>
<line x1="284.00" y1="110.40" x2="284.00" y2="111.10" stroke="#888" stroke-width="0.3"/>
<line x1="287.00" y1="110.40" x2="287.00" y2="111.10" stroke="#888" stroke-width="0.3"/>
<line x1="290.00" y1="110.40" x2="290.00" y2="111.10" stroke="#888" stroke-width="0.3"/>
<line x1="293.00" y1="110.40" x2="293.00" y2="111.10" stroke="#888" stroke-width="0.3"/>
<line x1="296.00" y1="110.40" x2="296.00" y2="111.10" stroke="#888" stroke-width="0.3"/>
<line x1="299.00" y1="110.40" x2="299.00" y2="111.10" stroke="#888" stroke-width="0.3"/>
<line x1="302.00" y1="110.40" x2="302.00" y2="111.10" stroke="#888" stroke-width="0.3"/>
<line x1="305.00" y1="110.40" x2="305.00" y2="111.10" stroke="#888" stroke-width="0.3"/>
<line x1="308.00" y1="110.40" x2="308.00" y2="111.10" stroke="#888" stroke-width="0.3"/>
<line x1="311.00" y1="110.40" x2="311.00" y2="111.10" stroke="#888" stroke-width="0.3"/>
<line x1="314.00" y1="110.40" x2="314.00" y2="111.10" stroke="#888" stroke-width="0.3"/>
<line x1="317.00" y1="110.40" x2="317.00" y2="111.10" stroke="#888" stroke-width="0.3"/>
<line x1="320.00" y1="110.40" x2="320.00" y2="111.10" stroke="#888" stroke-width="0.3"/>
<line x1="323.00" y1="110.40" x2="323.00" y2="111.10" stroke="#888" stroke-width="0.3"/>
<line x1="326.00" y1="110.40" x2="326.00" y2="111.10" stroke="#888" stroke-width="0.3"/>
<line x1="329.00" y1="110.40" x2="329.00" y2="111.10" stroke="#888" stroke-width="0.3"/>
<line x1="332.00" y1="110.40" x2="332.00" y2="111.10" stroke="#888" stroke-width="0.3"/>
<line x1="275.00" y1="110.40" x2="275.00" y2="111.70" stroke="#555" stroke-width="0.5"/>
<line x1="297.00" y1="110.40" x2="297.00" y2="111.70" stroke="#555" stroke-width="0.5"/>
<line x1="317.00" y1="110.40" x2="317.00" y2="111.70" stroke="#555" stroke-width="0.5"/>
<circle cx="144.5" cy="50" r="0.5" fill="#999"/>
<circle cx="144.5" cy="72" r="0.5" fill="#999"/>
<circle cx="144.5" cy="92" r="0.5" fill="#999"/>
<circle cx="249" cy="40" r="0.5" fill="#999"/>
<circle cx="249" cy="59" r="0.5" fill="#999"/>
<circle cx="249" cy="82" r="0.5" fill="#999"/>
<circle cx="249" cy="101" r="0.5" fill="#999"/>
<circle cx="176.6" cy="114" r="0.5" fill="#999"/>
<circle cx="190" cy="114" r="0.5" fill="#999"/>
<circle cx="205" cy="114" r="0.5" fill="#999"/>
<circle cx="219" cy="114" r="0.5" fill="#999"/>
<circle cx="275" cy="114" r="0.5" fill="#999"/>
<circle cx="297" cy="114" r="0.5" fill="#999"/>
<circle cx="317" cy="114" r="0.5" fill="#999"/>
<text x="138.0" y="72.0" font-size="10.2" font-weight="400" fill="#000" text-anchor="middle" transform="rotate(-90 138.0 72.0)">Tim-3</text>
<text x="187.0" y="129.2" font-size="10.2" font-weight="400" fill="#000" text-anchor="middle">Ly108</text>
<text x="244.4" y="71.8" font-size="10.2" font-weight="400" fill="#000" text-anchor="middle" transform="rotate(-90 244.4 71.8)">LAG-3</text>
<text x="294.6" y="129.2" font-size="10.2" font-weight="400" fill="#000" text-anchor="middle">CD62L</text>
<text x="345.6" y="9.5" font-size="12" font-weight="700" fill="#000" text-anchor="start">b</text>
<text x="404.0" y="15.8" font-size="9.72" font-weight="400" fill="#000" text-anchor="start">LAG-3 vs control</text>
<text x="346.4" y="32.9" font-size="9.72" font-weight="400" fill="#000" text-anchor="start">Expansion signature</text>
<line x1="378.00" y1="41.00" x2="378.00" y2="129.00" stroke="#ebebeb" stroke-width="0.6"/>
<line x1="411.30" y1="41.00" x2="411.30" y2="129.00" stroke="#ebebeb" stroke-width="0.6"/>
<line x1="444.60" y1="41.00" x2="444.60" y2="129.00" stroke="#ebebeb" stroke-width="0.6"/>
<line x1="478.00" y1="41.00" x2="478.00" y2="129.00" stroke="#ebebeb" stroke-width="0.6"/>
<line x1="371.00" y1="65.00" x2="511.20" y2="65.00" stroke="#ebebeb" stroke-width="0.6"/>
<line x1="371.00" y1="94.60" x2="511.20" y2="94.60" stroke="#ebebeb" stroke-width="0.6"/>
<line x1="371.00" y1="45.60" x2="511.20" y2="45.60" stroke="#ff2b2b" stroke-width="0.9" stroke-dasharray="3.4,3.1"/>
<line x1="371.00" y1="124.90" x2="511.20" y2="124.90" stroke="#ff2b2b" stroke-width="0.9" stroke-dasharray="3.4,3.1"/>
<line x1="378.80" y1="118.70" x2="378.80" y2="128.40" stroke="#111" stroke-width="0.85"/>
<line x1="389.20" y1="118.70" x2="389.20" y2="128.40" stroke="#111" stroke-width="0.85"/>
<line x1="394.00" y1="118.70" x2="394.00" y2="128.40" stroke="#111" stroke-width="0.85"/>
<line x1="394.60" y1="118.70" x2="394.60" y2="128.40" stroke="#111" stroke-width="0.85"/>
<line x1="395.20" y1="118.70" x2="395.20" y2="128.40" stroke="#111" stroke-width="0.85"/>
<line x1="398.00" y1="118.70" x2="398.00" y2="128.40" stroke="#111" stroke-width="0.85"/>
<line x1="401.20" y1="118.70" x2="401.20" y2="128.40" stroke="#111" stroke-width="0.85"/>
<line x1="408.40" y1="118.70" x2="408.40" y2="128.40" stroke="#111" stroke-width="0.85"/>
<line x1="409.20" y1="118.70" x2="409.20" y2="128.40" stroke="#111" stroke-width="0.85"/>
<line x1="410.00" y1="118.70" x2="410.00" y2="128.40" stroke="#111" stroke-width="0.85"/>
<line x1="410.80" y1="118.70" x2="410.80" y2="128.40" stroke="#111" stroke-width="0.85"/>
<line x1="411.60" y1="118.70" x2="411.60" y2="128.40" stroke="#111" stroke-width="0.85"/>
<line x1="412.40" y1="118.70" x2="412.40" y2="128.40" stroke="#111" stroke-width="0.85"/>
<line x1="418.00" y1="118.70" x2="418.00" y2="128.40" stroke="#111" stroke-width="0.85"/>
<line x1="427.20" y1="118.70" x2="427.20" y2="128.40" stroke="#111" stroke-width="0.85"/>
<line x1="430.00" y1="118.70" x2="430.00" y2="128.40" stroke="#111" stroke-width="0.85"/>
<line x1="436.40" y1="118.70" x2="436.40" y2="128.40" stroke="#111" stroke-width="0.85"/>
<line x1="440.30" y1="118.70" x2="440.30" y2="128.40" stroke="#111" stroke-width="0.85"/>
<line x1="450.70" y1="118.70" x2="450.70" y2="128.40" stroke="#111" stroke-width="0.85"/>
<line x1="453.40" y1="118.70" x2="453.40" y2="128.40" stroke="#111" stroke-width="0.85"/>
<line x1="457.00" y1="118.70" x2="457.00" y2="128.40" stroke="#111" stroke-width="0.85"/>
<line x1="460.40" y1="118.70" x2="460.40" y2="128.40" stroke="#111" stroke-width="0.85"/>
<line x1="463.90" y1="118.70" x2="463.90" y2="128.40" stroke="#111" stroke-width="0.85"/>
<line x1="470.30" y1="118.70" x2="470.30" y2="128.40" stroke="#111" stroke-width="0.85"/>
<line x1="371.00" y1="124.40" x2="511.20" y2="124.40" stroke="#222" stroke-width="0.9"/>
<polyline points="378.80,124.40 378.80,96.70 389.20,108.40 389.50,95.10 394.00,100.40 394.30,89.50 394.80,80.00 395.60,69.60 396.80,71.20 398.00,66.00 398.40,62.40 399.50,63.50 402.00,57.90 408.40,65.30 408.70,59.20 410.00,54.40 410.80,50.40 412.40,46.10 418.00,52.00 418.70,49.30 426.70,57.90 428.10,56.60 430.70,60.00 450.00,79.20 451.50,80.60 453.50,77.80 457.00,83.10 458.30,81.50 461.10,85.00 463.90,82.60 470.30,89.60 470.80,84.30 504.50,124.40" fill="none" stroke="#1ff01f" stroke-width="1.1" stroke-linejoin="round"/>
<text x="461.5" y="60.7" font-size="9.6" font-weight="400" fill="#000" text-anchor="start">ES=0.53</text>
<text x="461.5" y="72.7" font-size="9.6" font-weight="400" fill="#000" text-anchor="start">p=0.014</text>
<text x="368.2" y="67.95" font-size="8.2" font-weight="400" fill="#333" text-anchor="end">0.4</text>
<text x="368.2" y="97.55" font-size="8.2" font-weight="400" fill="#333" text-anchor="end">0.2</text>
<text x="368.2" y="127.35000000000001" font-size="8.2" font-weight="400" fill="#333" text-anchor="end">0</text>
<text x="378.0" y="142.5" font-size="8.2" font-weight="400" fill="#333" text-anchor="middle">0</text>
<text x="411.3" y="142.5" font-size="8.2" font-weight="400" fill="#333" text-anchor="middle">2000</text>
<text x="444.6" y="142.5" font-size="8.2" font-weight="400" fill="#333" text-anchor="middle">4000</text>
<text x="478.0" y="142.5" font-size="8.2" font-weight="400" fill="#333" text-anchor="middle">6000</text>
<text x="441.8" y="155.8" font-size="9.6" font-weight="400" fill="#000" text-anchor="middle">Rank</text>
<text x="353.0" y="85.8" font-size="9.6" font-weight="400" fill="#000" text-anchor="middle" transform="rotate(-90 353.0 85.8)">Enrichment score</text>
<text x="519.6" y="9.7" font-size="12" font-weight="700" fill="#000" text-anchor="start">c</text>
<text x="579.5" y="15.6" font-size="9.72" font-weight="400" fill="#000" text-anchor="start">LAG-3 vs control</text>
<text x="518.9" y="32.6" font-size="9.75" font-weight="400" fill="#000" text-anchor="start">TGF-B signalling signature</text>
<line x1="553.40" y1="41.00" x2="553.40" y2="133.00" stroke="#ebebeb" stroke-width="0.6"/>
<line x1="586.80" y1="41.00" x2="586.80" y2="133.00" stroke="#ebebeb" stroke-width="0.6"/>
<line x1="620.00" y1="41.00" x2="620.00" y2="133.00" stroke="#ebebeb" stroke-width="0.6"/>
<line x1="653.20" y1="41.00" x2="653.20" y2="133.00" stroke="#ebebeb" stroke-width="0.6"/>
<line x1="547.30" y1="94.30" x2="685.00" y2="94.30" stroke="#ebebeb" stroke-width="0.6"/>
<line x1="547.30" y1="122.30" x2="685.00" y2="122.30" stroke="#ebebeb" stroke-width="0.6"/>
<line x1="547.30" y1="45.50" x2="685.00" y2="45.50" stroke="#ff2b2b" stroke-width="0.9" stroke-dasharray="3.4,3.1"/>
<line x1="547.30" y1="128.40" x2="685.00" y2="128.40" stroke="#ff2b2b" stroke-width="0.9" stroke-dasharray="3.4,3.1"/>
<line x1="554.10" y1="61.60" x2="554.10" y2="71.70" stroke="#111" stroke-width="0.9"/>
<line x1="555.40" y1="61.60" x2="555.40" y2="71.70" stroke="#111" stroke-width="0.9"/>
<line x1="559.50" y1="61.60" x2="559.50" y2="71.70" stroke="#111" stroke-width="0.9"/>
<line x1="567.40" y1="61.60" x2="567.40" y2="71.70" stroke="#111" stroke-width="0.9"/>
<line x1="571.30" y1="61.60" x2="571.30" y2="71.70" stroke="#111" stroke-width="0.9"/>
<line x1="584.50" y1="61.60" x2="584.50" y2="71.70" stroke="#111" stroke-width="0.9"/>
<line x1="603.30" y1="61.60" x2="603.30" y2="71.70" stroke="#111" stroke-width="0.9"/>
<line x1="606.70" y1="61.60" x2="606.70" y2="71.70" stroke="#111" stroke-width="0.9"/>
<line x1="616.30" y1="61.60" x2="616.30" y2="71.70" stroke="#111" stroke-width="0.9"/>
<line x1="618.70" y1="61.60" x2="618.70" y2="71.70" stroke="#111" stroke-width="0.9"/>
<line x1="620.00" y1="61.60" x2="620.00" y2="71.70" stroke="#111" stroke-width="0.9"/>
<line x1="624.40" y1="61.60" x2="624.40" y2="71.70" stroke="#111" stroke-width="0.9"/>
<line x1="631.60" y1="61.60" x2="631.60" y2="71.70" stroke="#111" stroke-width="0.9"/>
<line x1="636.20" y1="61.60" x2="636.20" y2="71.70" stroke="#111" stroke-width="0.9"/>
<line x1="638.60" y1="61.60" x2="638.60" y2="71.70" stroke="#111" stroke-width="0.9"/>
<line x1="642.90" y1="61.60" x2="642.90" y2="71.70" stroke="#111" stroke-width="0.9"/>
<line x1="646.40" y1="61.60" x2="646.40" y2="71.70" stroke="#111" stroke-width="0.9"/>
<line x1="652.00" y1="61.60" x2="652.00" y2="71.70" stroke="#111" stroke-width="0.9"/>
<line x1="654.00" y1="61.60" x2="654.00" y2="71.70" stroke="#111" stroke-width="0.9"/>
<line x1="657.30" y1="61.60" x2="657.30" y2="71.70" stroke="#111" stroke-width="0.9"/>
<line x1="661.30" y1="61.60" x2="661.30" y2="71.70" stroke="#111" stroke-width="0.9"/>
<line x1="665.50" y1="61.60" x2="665.50" y2="71.70" stroke="#111" stroke-width="0.9"/>
<line x1="669.30" y1="61.60" x2="669.30" y2="71.70" stroke="#111" stroke-width="0.9"/>
<line x1="670.30" y1="61.60" x2="670.30" y2="71.70" stroke="#111" stroke-width="0.9"/>
<line x1="671.30" y1="61.60" x2="671.30" y2="71.70" stroke="#111" stroke-width="0.9"/>
<line x1="672.20" y1="61.60" x2="672.20" y2="71.70" stroke="#111" stroke-width="0.9"/>
<line x1="673.90" y1="61.60" x2="673.90" y2="71.70" stroke="#111" stroke-width="0.9"/>
<line x1="678.60" y1="61.60" x2="678.60" y2="71.70" stroke="#111" stroke-width="0.9"/>
<line x1="547.30" y1="66.60" x2="685.00" y2="66.60" stroke="#222" stroke-width="0.9"/>
<polyline points="553.80,66.60 553.90,61.90 554.10,56.90 555.20,47.70 559.10,51.50 559.80,45.80 566.90,54.10 568.00,50.50 570.50,54.30 571.50,51.50 584.50,65.00 590.00,69.30 600.00,80.30 608.00,87.30 631.30,111.30 636.00,115.30 637.00,114.80 638.60,116.60 639.20,115.90 642.60,120.00 643.30,118.60 646.00,122.00 646.60,120.60 651.30,125.30 652.00,124.00 653.30,125.00 654.00,123.70 656.60,126.00 657.30,124.60 660.60,127.30 661.50,125.30 665.00,128.20 666.00,120.00 669.00,123.70 669.50,112.60 670.00,108.60 671.30,109.00 672.00,104.00 673.00,106.00 674.00,99.00 678.30,104.00 678.60,90.60 678.90,72.00 678.90,66.60" fill="none" stroke="#1ff01f" stroke-width="1.1" stroke-linejoin="round"/>
<text x="558.3" y="108.8" font-size="9.6" font-weight="400" fill="#000" text-anchor="start">ES=-0.45</text>
<text x="558.3" y="120.4" font-size="9.6" font-weight="400" fill="#000" text-anchor="start">p=0.044</text>
<text x="545.0" y="69.55" font-size="8.2" font-weight="400" fill="#333" text-anchor="end">0</text>
<text x="545.0" y="97.25" font-size="8.2" font-weight="400" fill="#333" text-anchor="end">-0.2</text>
<text x="545.0" y="125.25" font-size="8.2" font-weight="400" fill="#333" text-anchor="end">-0.4</text>
<text x="553.4" y="142.0" font-size="8.2" font-weight="400" fill="#333" text-anchor="middle">0</text>
<text x="586.8" y="142.0" font-size="8.2" font-weight="400" fill="#333" text-anchor="middle">2000</text>
<text x="620.0" y="142.0" font-size="8.2" font-weight="400" fill="#333" text-anchor="middle">4000</text>
<text x="653.2" y="142.0" font-size="8.2" font-weight="400" fill="#333" text-anchor="middle">6000</text>
<text x="617.2" y="155.5" font-size="9.6" font-weight="400" fill="#000" text-anchor="middle">Rank</text>
<text x="526.7" y="86.0" font-size="9.6" font-weight="400" fill="#000" text-anchor="middle" transform="rotate(-90 526.7 86.0)">Enrichment score</text>
<text x="0.3" y="176.6" font-size="12" font-weight="700" fill="#000" text-anchor="start">d</text>
<text x="25.7" y="205.4" font-size="9.6" font-weight="400" fill="#000" text-anchor="middle">Day 14</text>
<text x="111.7" y="204.8" font-size="9.6" font-weight="400" fill="#000" text-anchor="middle">Day 21</text>
<text x="197.0" y="205.0" font-size="9.6" font-weight="400" fill="#000" text-anchor="middle">Day 28</text>
<path d="M27.30,214.80 L28.80,217.55 L30.05,219.80 L31.50,221.30 L32.80,221.40 L34.00,221.80 L35.10,222.60 L35.50,223.70 L35.00,224.80 L34.30,225.30 L33.00,225.70 L32.70,226.80 L32.90,227.80 L33.70,229.00 L36.30,229.80 L38.80,228.60 L40.50,227.00 L41.70,225.30 L42.60,224.80 L43.20,225.60 L43.00,226.70 L42.20,227.70 L40.00,230.50 L37.50,232.40 L36.30,234.10 L35.50,235.80 L35.50,239.60 L36.20,244.10 L37.70,248.30 L38.60,251.60 L38.10,255.00 L36.20,257.70 L35.10,259.10 L35.30,261.10 L37.30,262.00 L40.50,262.50 L42.50,263.80 L44.00,265.30 L42.60,265.10 L39.10,263.60 L34.80,262.70 L33.70,260.40 L33.30,259.10 L31.30,260.70 L29.20,262.10 L27.85,263.00 L27.85,274.20 L26.75,274.20 L26.75,263.00 L25.40,262.10 L23.30,260.70 L21.30,259.10 L20.90,260.40 L19.80,262.70 L15.50,263.60 L12.00,265.10 L10.60,265.30 L12.10,263.80 L14.10,262.50 L17.30,262.00 L19.30,261.10 L19.50,259.10 L18.40,257.70 L16.50,255.00 L16.00,251.60 L16.90,248.30 L18.40,244.10 L19.10,239.60 L19.10,235.80 L18.30,234.10 L17.10,232.40 L14.60,230.50 L12.40,227.70 L11.60,226.70 L11.40,225.60 L12.00,224.80 L12.90,225.30 L14.10,227.00 L15.80,228.60 L18.30,229.80 L20.90,229.00 L21.70,227.80 L21.90,226.80 L21.60,225.70 L20.30,225.30 L19.60,224.80 L19.10,223.70 L19.50,222.60 L20.60,221.80 L21.80,221.40 L23.10,221.30 L24.55,219.80 L25.80,217.55 L27.30,214.80Z" fill="#6e6e6e"/>
<ellipse cx="22.3" cy="236.3" rx="2.5" ry="4.3" fill="#9d9d9d"/>
<ellipse cx="32.8" cy="235.6" rx="2.5" ry="4.3" fill="#9d9d9d"/>
<ellipse cx="22.3" cy="249.0" rx="2.5" ry="5.0" fill="#9d9d9d"/>
<ellipse cx="22.3" cy="236.3" rx="5.3999999999999995" ry="6.2" fill="none" stroke="#eeb088" stroke-width="4.0" stroke-opacity="0.6" filter="url(#blur2)"/>
<ellipse cx="22.3" cy="236.3" rx="4.6" ry="5.4" fill="none" stroke="#bb7344" stroke-width="2.1" stroke-opacity="0.85" filter="url(#blur3)"/>
<polygon points="20.20,241.50 24.40,241.50 24.40,280.50 26.70,280.50 22.30,287.00 17.90,280.50 20.20,280.50" fill="#b8b8b8" fill-opacity="0.78"/>
<polygon points="54.10,237.90 79.00,237.90 79.00,234.10 87.90,241.30 79.00,248.50 79.00,244.70 54.10,244.70" fill="#ababab"/>
<path d="M112.70,214.50 L114.20,217.25 L115.45,219.50 L116.90,221.00 L118.20,221.10 L119.40,221.50 L120.50,222.30 L120.90,223.40 L120.40,224.50 L119.70,225.00 L118.40,225.40 L118.10,226.50 L118.30,227.50 L119.10,228.70 L121.70,229.50 L124.20,228.30 L125.90,226.70 L127.10,225.00 L128.00,224.50 L128.60,225.30 L128.40,226.40 L127.60,227.40 L125.40,230.20 L122.90,232.10 L121.70,233.80 L120.90,235.50 L120.90,239.30 L121.60,243.80 L123.10,248.00 L124.00,251.30 L123.50,254.70 L121.60,257.40 L120.50,258.80 L120.70,260.80 L122.70,261.70 L125.90,262.20 L127.90,263.50 L129.40,265.00 L128.00,264.80 L124.50,263.30 L120.20,262.40 L119.10,260.10 L118.70,258.80 L116.70,260.40 L114.60,261.80 L113.25,262.70 L113.25,273.90 L112.15,273.90 L112.15,262.70 L110.80,261.80 L108.70,260.40 L106.70,258.80 L106.30,260.10 L105.20,262.40 L100.90,263.30 L97.40,264.80 L96.00,265.00 L97.50,263.50 L99.50,262.20 L102.70,261.70 L104.70,260.80 L104.90,258.80 L103.80,257.40 L101.90,254.70 L101.40,251.30 L102.30,248.00 L103.80,243.80 L104.50,239.30 L104.50,235.50 L103.70,233.80 L102.50,232.10 L100.00,230.20 L97.80,227.40 L97.00,226.40 L96.80,225.30 L97.40,224.50 L98.30,225.00 L99.50,226.70 L101.20,228.30 L103.70,229.50 L106.30,228.70 L107.10,227.50 L107.30,226.50 L107.00,225.40 L105.70,225.00 L105.00,224.50 L104.50,223.40 L104.90,222.30 L106.00,221.50 L107.20,221.10 L108.50,221.00 L109.95,219.50 L111.20,217.25 L112.70,214.50Z" fill="#6e6e6e"/>
<ellipse cx="119.1" cy="237.0" rx="2.5" ry="4.3" fill="#9d9d9d"/>
<ellipse cx="107.4" cy="247.7" rx="2.5" ry="4.3" fill="#9d9d9d"/>
<ellipse cx="119.1" cy="237.0" rx="5.3999999999999995" ry="6.2" fill="none" stroke="#eeb088" stroke-width="4.0" stroke-opacity="0.6" filter="url(#blur2)"/>
<ellipse cx="119.1" cy="237.0" rx="4.6" ry="5.4" fill="none" stroke="#bb7344" stroke-width="2.1" stroke-opacity="0.85" filter="url(#blur3)"/>
<polygon points="118.20,242.20 122.40,242.20 122.40,296.30 124.70,296.30 120.30,302.80 115.90,296.30 118.20,296.30" fill="#b8b8b8" fill-opacity="0.78"/>
<polygon points="139.00,236.80 163.70,236.80 163.70,233.00 172.60,240.20 163.70,247.40 163.70,243.60 139.00,243.60" fill="#ababab"/>
<polygon points="147.80,264.70 161.40,264.70 161.40,257.90 168.30,257.90 154.60,250.40 140.90,257.90 147.80,257.90" fill="#7030a0"/>
<path d="M197.80,215.30 L199.30,218.05 L200.55,220.30 L202.00,221.80 L203.30,221.90 L204.50,222.30 L205.60,223.10 L206.00,224.20 L205.50,225.30 L204.80,225.80 L203.50,226.20 L203.20,227.30 L203.40,228.30 L204.20,229.50 L206.80,230.30 L209.30,229.10 L211.00,227.50 L212.20,225.80 L213.10,225.30 L213.70,226.10 L213.50,227.20 L212.70,228.20 L210.50,231.00 L208.00,232.90 L206.80,234.60 L206.00,236.30 L206.00,240.10 L206.70,244.60 L208.20,248.80 L209.10,252.10 L208.60,255.50 L206.70,258.20 L205.60,259.60 L205.80,261.60 L207.80,262.50 L211.00,263.00 L213.00,264.30 L214.50,265.80 L213.10,265.60 L209.60,264.10 L205.30,263.20 L204.20,260.90 L203.80,259.60 L201.80,261.20 L199.70,262.60 L198.35,263.50 L198.35,274.70 L197.25,274.70 L197.25,263.50 L195.90,262.60 L193.80,261.20 L191.80,259.60 L191.40,260.90 L190.30,263.20 L186.00,264.10 L182.50,265.60 L181.10,265.80 L182.60,264.30 L184.60,263.00 L187.80,262.50 L189.80,261.60 L190.00,259.60 L188.90,258.20 L187.00,255.50 L186.50,252.10 L187.40,248.80 L188.90,244.60 L189.60,240.10 L189.60,236.30 L188.80,234.60 L187.60,232.90 L185.10,231.00 L182.90,228.20 L182.10,227.20 L181.90,226.10 L182.50,225.30 L183.40,225.80 L184.60,227.50 L186.30,229.10 L188.80,230.30 L191.40,229.50 L192.20,228.30 L192.40,227.30 L192.10,226.20 L190.80,225.80 L190.10,225.30 L189.60,224.20 L190.00,223.10 L191.10,222.30 L192.30,221.90 L193.60,221.80 L195.05,220.30 L196.30,218.05 L197.80,215.30Z" fill="#6e6e6e"/>
<ellipse cx="191.6" cy="247.9" rx="2.4" ry="4.3" fill="#9d9d9d"/>
<ellipse cx="191.6" cy="247.9" rx="5.3999999999999995" ry="6.2" fill="none" stroke="#eeb088" stroke-width="4.0" stroke-opacity="0.6" filter="url(#blur2)"/>
<ellipse cx="191.6" cy="247.9" rx="4.6" ry="5.4" fill="none" stroke="#bb7344" stroke-width="2.1" stroke-opacity="0.85" filter="url(#blur3)"/>
<polygon points="189.10,253.20 193.30,253.20 193.30,325.50 195.70,325.50 191.20,332.00 186.70,325.50 189.10,325.50" fill="#b8b8b8" fill-opacity="0.78"/>
<text x="69.8" y="277.0" font-size="9.6" font-weight="400" fill="#ff8c00" text-anchor="middle">Expanded/</text>
<text x="69.6" y="289.7" font-size="9.6" font-weight="400" fill="#a6a6a6" text-anchor="middle">Stable/</text>
<text x="69.7" y="300.5" font-size="9.6" font-weight="400" fill="#3d66e0" text-anchor="middle">Contracted</text>
<text x="156.1" y="278.9" font-size="9.75" font-weight="700" fill="#7030a0" text-anchor="middle">Untreated or</text>
<text x="156.0" y="290.5" font-size="9.75" font-weight="700" fill="#7030a0" text-anchor="middle">anti-LAG-3</text>
<text x="120.7" y="323.2" font-size="9.6" font-weight="400" fill="#000" text-anchor="middle">Sort cells</text>
<text x="121.0" y="335.5" font-size="9.6" font-weight="400" fill="#000" text-anchor="middle">Bulk TCR-seq of subsets</text>
<text x="236.8" y="176.5" font-size="12" font-weight="700" fill="#000" text-anchor="start">e</text>
<line x1="289.60" y1="204.30" x2="289.60" y2="316.90" stroke="#8c8c8c" stroke-width="0.9"/>
<line x1="289.20" y1="316.70" x2="458.40" y2="316.70" stroke="#8c8c8c" stroke-width="0.9"/>
<line x1="287.40" y1="209.40" x2="289.60" y2="209.40" stroke="#8c8c8c" stroke-width="0.7"/>
<text x="285.8" y="212.99999999999997" font-size="10" font-weight="400" fill="#222" text-anchor="end">1.00</text>
<line x1="287.40" y1="236.22" x2="289.60" y2="236.22" stroke="#8c8c8c" stroke-width="0.7"/>
<text x="285.8" y="239.825" font-size="10" font-weight="400" fill="#222" text-anchor="end">0.75</text>
<line x1="287.40" y1="263.05" x2="289.60" y2="263.05" stroke="#8c8c8c" stroke-width="0.7"/>
<text x="285.8" y="266.65000000000003" font-size="10" font-weight="400" fill="#222" text-anchor="end">0.50</text>
<line x1="287.40" y1="289.88" x2="289.60" y2="289.88" stroke="#8c8c8c" stroke-width="0.7"/>
<text x="285.8" y="293.475" font-size="10" font-weight="400" fill="#222" text-anchor="end">0.25</text>
<line x1="287.40" y1="316.70" x2="289.60" y2="316.70" stroke="#8c8c8c" stroke-width="0.7"/>
<text x="285.8" y="320.3" font-size="10" font-weight="400" fill="#222" text-anchor="end">0.00</text>
<line x1="317.30" y1="316.70" x2="317.30" y2="319.00" stroke="#8c8c8c" stroke-width="0.7"/>
<line x1="374.40" y1="316.70" x2="374.40" y2="319.00" stroke="#8c8c8c" stroke-width="0.7"/>
<line x1="430.80" y1="316.70" x2="430.80" y2="319.00" stroke="#8c8c8c" stroke-width="0.7"/>
<text x="317.6" y="327.7" font-size="10" font-weight="400" fill="#222" text-anchor="middle">1-10</text>
<text x="374.6" y="327.7" font-size="10" font-weight="400" fill="#222" text-anchor="middle">11-50</text>
<text x="430.6" y="327.7" font-size="10" font-weight="400" fill="#222" text-anchor="middle">Over 51</text>
<text x="374.0" y="346.5" font-size="10.1" font-weight="400" fill="#000" text-anchor="middle">Clone frequency rank on day 28</text>
<text x="243.0" y="260.7" font-size="10.25" font-weight="400" fill="#000" text-anchor="middle" transform="rotate(-90 243.0 260.7)">Fraction of clones expanding</text>
<text x="254.0" y="260.2" font-size="10.2" font-weight="400" fill="#000" text-anchor="middle" transform="rotate(-90 254.0 260.2)">from day 21 to 28</text>
<text x="295.9" y="203.2" font-size="10" font-weight="400" fill="#000" text-anchor="start">p=0.0096</text>
<path d="M306.4,210.8 L306.4,208.5 L328.8,208.5 L328.8,210.8" fill="none" stroke="#555" stroke-width="0.7"/>
<text x="403.3" y="205.0" font-size="10" font-weight="700" fill="#000" text-anchor="start">Untreated</text>
<text x="403.3" y="216.6" font-size="10" font-weight="700" fill="#7030a0" text-anchor="start">LAG-3</text>
<polyline points="306.30,263.40 365.00,284.50 419.30,296.10" fill="none" stroke="#111" stroke-width="1.25" stroke-linejoin="round"/>
<circle cx="306.3" cy="263.4" r="1.6" fill="#111"/>
<polyline points="329.50,232.00 386.00,283.50 441.00,296.50" fill="none" stroke="#7030a0" stroke-width="1.25" stroke-linejoin="round"/>
<polygon points="302.10,238.40 305.50,241.80 302.10,245.20 298.70,241.80" fill="#000"/>
<polygon points="313.80,249.10 317.20,252.50 313.80,255.90 310.40,252.50" fill="#000"/>
<polygon points="299.60,259.80 303.00,263.20 299.60,266.60 296.20,263.20" fill="#000"/>
<polygon points="303.00,270.60 306.40,274.00 303.00,277.40 299.60,274.00" fill="#000"/>
<polygon points="307.50,281.40 310.90,284.80 307.50,288.20 304.10,284.80" fill="#000"/>
<line x1="306.30" y1="250.40" x2="306.30" y2="276.40" stroke="#111" stroke-width="1.3"/>
<line x1="300.30" y1="250.40" x2="312.30" y2="250.40" stroke="#111" stroke-width="1.3"/>
<line x1="300.30" y1="276.40" x2="312.30" y2="276.40" stroke="#111" stroke-width="1.3"/>
<polygon points="326.70,216.70 330.30,220.30 326.70,223.90 323.10,220.30" fill="#7030a0"/>
<polygon points="323.30,227.90 326.90,231.50 323.30,235.10 319.70,231.50" fill="#7030a0"/>
<polygon points="329.80,227.90 333.40,231.50 329.80,235.10 326.20,231.50" fill="#7030a0"/>
<polygon points="325.10,238.20 328.70,241.80 325.10,245.40 321.50,241.80" fill="#7030a0"/>
<polygon points="328.30,238.20 331.90,241.80 328.30,245.40 324.70,241.80" fill="#7030a0"/>
<line x1="327.60" y1="223.80" x2="327.60" y2="237.90" stroke="#7030a0" stroke-width="1.3"/>
<line x1="321.60" y1="223.80" x2="333.60" y2="223.80" stroke="#7030a0" stroke-width="1.3"/>
<line x1="321.60" y1="237.90" x2="333.60" y2="237.90" stroke="#7030a0" stroke-width="1.3"/>
<polygon points="366.70,272.90 370.10,276.30 366.70,279.70 363.30,276.30" fill="#000"/>
<polygon points="358.90,286.70 362.30,290.10 358.90,293.50 355.50,290.10" fill="#000"/>
<polygon points="363.30,287.20 366.70,290.60 363.30,294.00 359.90,290.60" fill="#000"/>
<polygon points="370.00,283.80 373.40,287.20 370.00,290.60 366.60,287.20" fill="#000"/>
<polygon points="364.00,281.60 367.40,285.00 364.00,288.40 360.60,285.00" fill="#000"/>
<line x1="363.60" y1="280.60" x2="363.60" y2="289.00" stroke="#111" stroke-width="1.3"/>
<line x1="357.60" y1="280.60" x2="369.60" y2="280.60" stroke="#111" stroke-width="1.3"/>
<line x1="357.60" y1="289.00" x2="369.60" y2="289.00" stroke="#111" stroke-width="1.3"/>
<polygon points="384.40,259.60 388.00,263.20 384.40,266.80 380.80,263.20" fill="#7030a0"/>
<polygon points="392.70,264.70 396.30,268.30 392.70,271.90 389.10,268.30" fill="#7030a0"/>
<polygon points="386.70,287.00 390.30,290.60 386.70,294.20 383.10,290.60" fill="#7030a0"/>
<polygon points="392.70,287.00 396.30,290.60 392.70,294.20 389.10,290.60" fill="#7030a0"/>
<polygon points="386.70,299.80 390.30,303.40 386.70,307.00 383.10,303.40" fill="#7030a0"/>
<line x1="386.00" y1="272.10" x2="386.00" y2="293.40" stroke="#7030a0" stroke-width="1.3"/>
<line x1="380.00" y1="272.10" x2="392.00" y2="272.10" stroke="#7030a0" stroke-width="1.3"/>
<line x1="380.00" y1="293.40" x2="392.00" y2="293.40" stroke="#7030a0" stroke-width="1.3"/>
<polygon points="414.00,277.60 417.40,281.00 414.00,284.40 410.60,281.00" fill="#000"/>
<polygon points="416.70,293.80 420.10,297.20 416.70,300.60 413.30,297.20" fill="#000"/>
<polygon points="423.80,294.30 427.20,297.70 423.80,301.10 420.40,297.70" fill="#000"/>
<polygon points="420.50,292.60 423.90,296.00 420.50,299.40 417.10,296.00" fill="#000"/>
<polygon points="427.80,303.80 431.20,307.20 427.80,310.60 424.40,307.20" fill="#000"/>
<line x1="419.30" y1="287.90" x2="419.30" y2="303.40" stroke="#111" stroke-width="1.3"/>
<line x1="413.30" y1="287.90" x2="425.30" y2="287.90" stroke="#111" stroke-width="1.3"/>
<line x1="413.30" y1="303.40" x2="425.30" y2="303.40" stroke="#111" stroke-width="1.3"/>
<polygon points="445.60,281.40 449.20,285.00 445.60,288.60 442.00,285.00" fill="#7030a0"/>
<polygon points="442.90,286.50 446.50,290.10 442.90,293.70 439.30,290.10" fill="#7030a0"/>
<polygon points="434.40,290.30 438.00,293.90 434.40,297.50 430.80,293.90" fill="#7030a0"/>
<polygon points="441.10,295.80 444.70,299.40 441.10,303.00 437.50,299.40" fill="#7030a0"/>
<polygon points="435.60,298.50 439.20,302.10 435.60,305.70 432.00,302.10" fill="#7030a0"/>
<polygon points="442.70,307.00 446.30,310.60 442.70,314.20 439.10,310.60" fill="#7030a0"/>
<line x1="441.10" y1="291.20" x2="441.10" y2="303.90" stroke="#7030a0" stroke-width="1.3"/>
<line x1="435.10" y1="291.20" x2="447.10" y2="291.20" stroke="#7030a0" stroke-width="1.3"/>
<line x1="435.10" y1="303.90" x2="447.10" y2="303.90" stroke="#7030a0" stroke-width="1.3"/>
<text x="470.4" y="176.2" font-size="12" font-weight="700" fill="#000" text-anchor="start">f</text>
<text x="484.6" y="175.8" font-size="9.7" font-weight="400" fill="#000" text-anchor="start">Day 14 to 21 dynamics of expanding clones</text>
<text x="471.0" y="197.6" font-size="9.7" font-weight="700" fill="#000" text-anchor="start">Untreated</text>
<text x="471.5" y="262.9" font-size="9.7" font-weight="700" fill="#7030a0" text-anchor="start">LAG-3</text>
<text x="508.6" y="210.6" font-size="9.1" font-weight="400" fill="#111" text-anchor="end" textLength="30.7" lengthAdjust="spacingAndGlyphs">Mouse 1</text>
<rect x="517.10" y="203.50" width="36.36" height="7.00" fill="#ff8c00"/>
<text x="508.6" y="219.92" font-size="9.1" font-weight="400" fill="#111" text-anchor="end" textLength="30.7" lengthAdjust="spacingAndGlyphs">Mouse 2</text>
<rect x="517.10" y="212.82" width="72.72" height="7.00" fill="#ff8c00"/>
<text x="508.6" y="229.23999999999998" font-size="9.1" font-weight="400" fill="#111" text-anchor="end" textLength="30.7" lengthAdjust="spacingAndGlyphs">Mouse 3</text>
<rect x="517.10" y="222.14" width="12.12" height="7.00" fill="#4169e1"/>
<rect x="529.22" y="222.14" width="24.24" height="7.00" fill="#a6a6a6"/>
<rect x="553.46" y="222.14" width="24.24" height="7.00" fill="#ff8c00"/>
<text x="508.6" y="238.56" font-size="9.1" font-weight="400" fill="#111" text-anchor="end" textLength="30.7" lengthAdjust="spacingAndGlyphs">Mouse 4</text>
<rect x="517.10" y="231.46" width="24.24" height="7.00" fill="#a6a6a6"/>
<rect x="541.34" y="231.46" width="60.60" height="7.00" fill="#ff8c00"/>
<text x="508.6" y="247.88" font-size="9.1" font-weight="400" fill="#111" text-anchor="end" textLength="30.7" lengthAdjust="spacingAndGlyphs">Mouse 5</text>
<rect x="517.10" y="240.78" width="48.48" height="7.00" fill="#ff8c00"/>
<text x="508.6" y="277.5" font-size="9.1" font-weight="400" fill="#111" text-anchor="end" textLength="30.7" lengthAdjust="spacingAndGlyphs">Mouse 1</text>
<rect x="517.10" y="270.40" width="24.24" height="7.00" fill="#4169e1"/>
<rect x="541.34" y="270.40" width="24.24" height="7.00" fill="#a6a6a6"/>
<rect x="565.58" y="270.40" width="60.60" height="7.00" fill="#ff8c00"/>
<text x="508.6" y="286.78" font-size="9.1" font-weight="400" fill="#111" text-anchor="end" textLength="30.7" lengthAdjust="spacingAndGlyphs">Mouse 2</text>
<rect x="517.10" y="279.68" width="24.24" height="7.00" fill="#a6a6a6"/>
<rect x="541.34" y="279.68" width="72.72" height="7.00" fill="#ff8c00"/>
<text x="508.6" y="296.06" font-size="9.1" font-weight="400" fill="#111" text-anchor="end" textLength="30.7" lengthAdjust="spacingAndGlyphs">Mouse 3</text>
<rect x="517.10" y="288.96" width="36.36" height="7.00" fill="#4169e1"/>
<rect x="553.46" y="288.96" width="36.36" height="7.00" fill="#a6a6a6"/>
<rect x="589.82" y="288.96" width="12.12" height="7.00" fill="#ff8c00"/>
<text x="508.6" y="305.34" font-size="9.1" font-weight="400" fill="#111" text-anchor="end" textLength="30.7" lengthAdjust="spacingAndGlyphs">Mouse 4</text>
<rect x="517.10" y="298.24" width="24.24" height="7.00" fill="#a6a6a6"/>
<rect x="541.34" y="298.24" width="72.72" height="7.00" fill="#ff8c00"/>
<text x="508.6" y="314.62" font-size="9.1" font-weight="400" fill="#111" text-anchor="end" textLength="30.7" lengthAdjust="spacingAndGlyphs">Mouse 5</text>
<rect x="517.10" y="307.52" width="12.12" height="7.00" fill="#4169e1"/>
<rect x="529.22" y="307.52" width="12.12" height="7.00" fill="#a6a6a6"/>
<rect x="541.34" y="307.52" width="60.60" height="7.00" fill="#ff8c00"/>
<text x="508.6" y="323.9" font-size="9.1" font-weight="400" fill="#111" text-anchor="end" textLength="30.7" lengthAdjust="spacingAndGlyphs">Mouse 6</text>
<rect x="517.10" y="316.80" width="12.12" height="7.00" fill="#4169e1"/>
<rect x="529.22" y="316.80" width="24.24" height="7.00" fill="#a6a6a6"/>
<rect x="553.46" y="316.80" width="72.72" height="7.00" fill="#ff8c00"/>
<text x="614.4" y="214.2" font-size="9.7" font-weight="400" fill="#ff8c00" text-anchor="start">Expanded</text>
<text x="614.4" y="225.8" font-size="9.7" font-weight="400" fill="#a6a6a6" text-anchor="start">Stable</text>
<text x="614.4" y="237.9" font-size="9.7" font-weight="400" fill="#4169e1" text-anchor="start">Contracted</text>
<line x1="517.40" y1="327.00" x2="638.40" y2="327.00" stroke="#333" stroke-width="0.8"/>
<line x1="517.10" y1="327.00" x2="517.10" y2="329.20" stroke="#333" stroke-width="0.7"/>
<text x="517.1" y="338.6" font-size="10.3" font-weight="400" fill="#111" text-anchor="middle">0</text>
<line x1="529.22" y1="327.00" x2="529.22" y2="329.20" stroke="#333" stroke-width="0.7"/>
<text x="529.22" y="338.6" font-size="10.3" font-weight="400" fill="#111" text-anchor="middle">1</text>
<line x1="541.34" y1="327.00" x2="541.34" y2="329.20" stroke="#333" stroke-width="0.7"/>
<text x="541.34" y="338.6" font-size="10.3" font-weight="400" fill="#111" text-anchor="middle">2</text>
<line x1="553.46" y1="327.00" x2="553.46" y2="329.20" stroke="#333" stroke-width="0.7"/>
<text x="553.46" y="338.6" font-size="10.3" font-weight="400" fill="#111" text-anchor="middle">3</text>
<line x1="565.58" y1="327.00" x2="565.58" y2="329.20" stroke="#333" stroke-width="0.7"/>
<text x="565.58" y="338.6" font-size="10.3" font-weight="400" fill="#111" text-anchor="middle">4</text>
<line x1="577.70" y1="327.00" x2="577.70" y2="329.20" stroke="#333" stroke-width="0.7"/>
<text x="577.7" y="338.6" font-size="10.3" font-weight="400" fill="#111" text-anchor="middle">5</text>
<line x1="589.82" y1="327.00" x2="589.82" y2="329.20" stroke="#333" stroke-width="0.7"/>
<text x="589.82" y="338.6" font-size="10.3" font-weight="400" fill="#111" text-anchor="middle">6</text>
<line x1="601.94" y1="327.00" x2="601.94" y2="329.20" stroke="#333" stroke-width="0.7"/>
<text x="601.94" y="338.6" font-size="10.3" font-weight="400" fill="#111" text-anchor="middle">7</text>
<line x1="614.06" y1="327.00" x2="614.06" y2="329.20" stroke="#333" stroke-width="0.7"/>
<text x="614.0600000000001" y="338.6" font-size="10.3" font-weight="400" fill="#111" text-anchor="middle">8</text>
<line x1="626.18" y1="327.00" x2="626.18" y2="329.20" stroke="#333" stroke-width="0.7"/>
<text x="626.1800000000001" y="338.6" font-size="10.3" font-weight="400" fill="#111" text-anchor="middle">9</text>
<line x1="638.30" y1="327.00" x2="638.30" y2="329.20" stroke="#333" stroke-width="0.7"/>
<text x="638.3" y="338.6" font-size="10.3" font-weight="400" fill="#111" text-anchor="middle">10</text>
<text x="581.9" y="351.6" font-size="9.7" font-weight="400" fill="#000" text-anchor="middle">Number of clones</text>
<text x="-0.3" y="382.4" font-size="12" font-weight="700" fill="#000" text-anchor="start">g</text>
<text x="95.6" y="383.3" font-size="9.75" font-weight="400" fill="#000" text-anchor="start">Dynamics of clones from day 14 to 21</text>
<text x="9.6" y="475.6" font-size="10.25" font-weight="400" fill="#000" text-anchor="middle" transform="rotate(-90 9.6 475.6)">Fraction of clones expanding</text>
<text x="20.4" y="475.5" font-size="10.2" font-weight="400" fill="#000" text-anchor="middle" transform="rotate(-90 20.4 475.5)">from day 21 to 28</text>
<line x1="49.30" y1="416.50" x2="49.30" y2="535.00" stroke="#8c8c8c" stroke-width="0.9"/>
<line x1="48.90" y1="534.60" x2="113.20" y2="534.60" stroke="#8c8c8c" stroke-width="0.9"/>
<line x1="47.10" y1="530.40" x2="49.30" y2="530.40" stroke="#8c8c8c" stroke-width="0.7"/>
<text x="45.5" y="533.9" font-size="10" font-weight="400" fill="#222" text-anchor="end">0.0</text>
<line x1="47.10" y1="483.60" x2="49.30" y2="483.60" stroke="#8c8c8c" stroke-width="0.7"/>
<text x="45.5" y="487.1" font-size="10" font-weight="400" fill="#222" text-anchor="end">0.2</text>
<line x1="47.10" y1="437.30" x2="49.30" y2="437.30" stroke="#8c8c8c" stroke-width="0.7"/>
<text x="45.5" y="440.8" font-size="10" font-weight="400" fill="#222" text-anchor="end">0.4</text>
<line x1="66.00" y1="534.60" x2="66.00" y2="536.60" stroke="#8c8c8c" stroke-width="0.7"/>
<line x1="97.90" y1="534.60" x2="97.90" y2="536.60" stroke="#8c8c8c" stroke-width="0.7"/>
<text x="62.5" y="405.2" font-size="9.7" font-weight="400" fill="#ff8c00" text-anchor="start">Expanded</text>
<text x="66.0" y="423.4" font-size="9.9" font-weight="400" fill="#000" text-anchor="start">p=0.14</text>
<path d="M65.7,430.4 L65.7,428.2 L97.3,428.2 L97.3,430.4" fill="none" stroke="#444" stroke-width="0.7"/>
<polygon points="67.90,457.70 71.20,461.00 67.90,464.30 64.60,461.00" fill="#000"/>
<polygon points="59.60,487.90 62.90,491.20 59.60,494.50 56.30,491.20" fill="#000"/>
<polygon points="65.70,484.70 69.00,488.00 65.70,491.30 62.40,488.00" fill="#000"/>
<polygon points="68.50,484.20 71.80,487.50 68.50,490.80 65.20,487.50" fill="#000"/>
<polygon points="65.70,512.50 69.00,515.80 65.70,519.10 62.40,515.80" fill="#000"/>
<polygon points="101.20,431.30 104.60,434.70 101.20,438.10 97.80,434.70" fill="#7030a0"/>
<polygon points="92.80,445.80 96.20,449.20 92.80,452.60 89.40,449.20" fill="#7030a0"/>
<polygon points="98.70,466.20 102.10,469.60 98.70,473.00 95.30,469.60" fill="#7030a0"/>
<polygon points="99.70,473.00 103.10,476.40 99.70,479.80 96.30,476.40" fill="#7030a0"/>
<polygon points="98.70,480.70 102.10,484.10 98.70,487.50 95.30,484.10" fill="#7030a0"/>
<polygon points="91.00,494.90 94.40,498.30 91.00,501.70 87.60,498.30" fill="#7030a0"/>
<line x1="66.00" y1="472.60" x2="66.00" y2="505.20" stroke="#7a7a7a" stroke-width="1.3"/>
<line x1="60.70" y1="472.60" x2="71.30" y2="472.60" stroke="#7a7a7a" stroke-width="1.3"/>
<line x1="60.70" y1="505.20" x2="71.30" y2="505.20" stroke="#7a7a7a" stroke-width="1.3"/>
<circle cx="66.0" cy="487.9" r="1.7" fill="#7a7a7a"/>
<line x1="97.90" y1="451.00" x2="97.90" y2="486.60" stroke="#7a7a7a" stroke-width="1.3"/>
<line x1="92.60" y1="451.00" x2="103.20" y2="451.00" stroke="#7a7a7a" stroke-width="1.3"/>
<line x1="92.60" y1="486.60" x2="103.20" y2="486.60" stroke="#7a7a7a" stroke-width="1.3"/>
<circle cx="97.9" cy="469.6" r="1.7" fill="#7a7a7a"/>
<text x="86.0" y="545.6" font-size="10.3" font-weight="400" fill="#111" text-anchor="end" transform="rotate(-25 86.0 545.6)">Untreated</text>
<text x="112.9" y="544.8" font-size="10.3" font-weight="400" fill="#111" text-anchor="end" transform="rotate(-25 112.9 544.8)">LAG-3</text>
<line x1="145.30" y1="416.50" x2="145.30" y2="535.00" stroke="#8c8c8c" stroke-width="0.9"/>
<line x1="144.90" y1="534.60" x2="208.40" y2="534.60" stroke="#8c8c8c" stroke-width="0.9"/>
<line x1="143.10" y1="527.20" x2="145.30" y2="527.20" stroke="#8c8c8c" stroke-width="0.7"/>
<text x="141.5" y="530.7" font-size="10" font-weight="400" fill="#222" text-anchor="end">0.0</text>
<line x1="143.10" y1="490.80" x2="145.30" y2="490.80" stroke="#8c8c8c" stroke-width="0.7"/>
<text x="141.5" y="494.3" font-size="10" font-weight="400" fill="#222" text-anchor="end">0.1</text>
<line x1="143.10" y1="454.60" x2="145.30" y2="454.60" stroke="#8c8c8c" stroke-width="0.7"/>
<text x="141.5" y="458.1" font-size="10" font-weight="400" fill="#222" text-anchor="end">0.2</text>
<line x1="143.10" y1="418.50" x2="145.30" y2="418.50" stroke="#8c8c8c" stroke-width="0.7"/>
<text x="141.5" y="422.0" font-size="10" font-weight="400" fill="#222" text-anchor="end">0.3</text>
<line x1="161.30" y1="534.60" x2="161.30" y2="536.60" stroke="#8c8c8c" stroke-width="0.7"/>
<line x1="192.30" y1="534.60" x2="192.30" y2="536.60" stroke="#8c8c8c" stroke-width="0.7"/>
<text x="164.6" y="405.2" font-size="9.7" font-weight="400" fill="#a6a6a6" text-anchor="start">Stable</text>
<text x="160.6" y="423.4" font-size="9.9" font-weight="400" fill="#000" text-anchor="start">p=0.58</text>
<path d="M160.8,430.0 L160.8,427.8 L192.9,427.8 L192.9,430.0" fill="none" stroke="#444" stroke-width="0.7"/>
<polygon points="165.20,430.30 168.50,433.60 165.20,436.90 161.90,433.60" fill="#000"/>
<polygon points="165.20,464.40 168.50,467.70 165.20,471.00 161.90,467.70" fill="#000"/>
<polygon points="162.80,478.80 166.10,482.10 162.80,485.40 159.50,482.10" fill="#000"/>
<polygon points="156.00,488.00 159.30,491.30 156.00,494.60 152.70,491.30" fill="#000"/>
<polygon points="163.10,504.90 166.40,508.20 163.10,511.50 159.80,508.20" fill="#000"/>
<polygon points="188.30,442.80 191.70,446.20 188.30,449.60 184.90,446.20" fill="#7030a0"/>
<polygon points="194.40,452.00 197.80,455.40 194.40,458.80 191.00,455.40" fill="#7030a0"/>
<polygon points="196.90,465.80 200.30,469.20 196.90,472.60 193.50,469.20" fill="#7030a0"/>
<polygon points="196.60,472.50 200.00,475.90 196.60,479.30 193.20,475.90" fill="#7030a0"/>
<polygon points="191.30,480.20 194.70,483.60 191.30,487.00 187.90,483.60" fill="#7030a0"/>
<polygon points="191.30,487.30 194.70,490.70 191.30,494.10 187.90,490.70" fill="#7030a0"/>
<line x1="161.30" y1="452.00" x2="161.30" y2="496.80" stroke="#7a7a7a" stroke-width="1.3"/>
<line x1="156.00" y1="452.00" x2="166.60" y2="452.00" stroke="#7a7a7a" stroke-width="1.3"/>
<line x1="156.00" y1="496.80" x2="166.60" y2="496.80" stroke="#7a7a7a" stroke-width="1.3"/>
<circle cx="161.3" cy="476.9" r="1.7" fill="#7a7a7a"/>
<line x1="192.30" y1="456.90" x2="192.30" y2="482.10" stroke="#7a7a7a" stroke-width="1.3"/>
<line x1="187.00" y1="456.90" x2="197.60" y2="456.90" stroke="#7a7a7a" stroke-width="1.3"/>
<line x1="187.00" y1="482.10" x2="197.60" y2="482.10" stroke="#7a7a7a" stroke-width="1.3"/>
<circle cx="192.3" cy="470.4" r="1.7" fill="#7a7a7a"/>
<text x="181.3" y="545.6" font-size="10.3" font-weight="400" fill="#111" text-anchor="end" transform="rotate(-25 181.3 545.6)">Untreated</text>
<text x="207.3" y="544.8" font-size="10.3" font-weight="400" fill="#111" text-anchor="end" transform="rotate(-25 207.3 544.8)">LAG-3</text>
<line x1="240.60" y1="416.50" x2="240.60" y2="535.00" stroke="#8c8c8c" stroke-width="0.9"/>
<line x1="240.20" y1="534.60" x2="304.50" y2="534.60" stroke="#8c8c8c" stroke-width="0.9"/>
<line x1="238.40" y1="518.40" x2="240.60" y2="518.40" stroke="#8c8c8c" stroke-width="0.7"/>
<text x="236.79999999999998" y="521.9" font-size="10" font-weight="400" fill="#222" text-anchor="end">0.00</text>
<line x1="238.40" y1="477.40" x2="240.60" y2="477.40" stroke="#8c8c8c" stroke-width="0.7"/>
<text x="236.79999999999998" y="480.9" font-size="10" font-weight="400" fill="#222" text-anchor="end">0.05</text>
<line x1="238.40" y1="436.20" x2="240.60" y2="436.20" stroke="#8c8c8c" stroke-width="0.7"/>
<text x="236.79999999999998" y="439.7" font-size="10" font-weight="400" fill="#222" text-anchor="end">0.10</text>
<line x1="256.20" y1="534.60" x2="256.20" y2="536.60" stroke="#8c8c8c" stroke-width="0.7"/>
<line x1="288.20" y1="534.60" x2="288.20" y2="536.60" stroke="#8c8c8c" stroke-width="0.7"/>
<text x="248.5" y="405.2" font-size="9.7" font-weight="400" fill="#3d66e0" text-anchor="start">Contracted</text>
<text x="253.8" y="423.4" font-size="9.9" font-weight="400" fill="#000" text-anchor="start">p=0.0062</text>
<path d="M256.2,429.7 L256.2,427.5 L289.1,427.5 L289.1,429.7" fill="none" stroke="#444" stroke-width="0.7"/>
<polygon points="250.10,459.50 253.40,462.80 250.10,466.10 246.80,462.80" fill="#000"/>
<polygon points="251.30,475.80 254.60,479.10 251.30,482.40 248.00,479.10" fill="#000"/>
<polygon points="252.20,479.50 255.50,482.80 252.20,486.10 248.90,482.80" fill="#000"/>
<polygon points="262.40,474.30 265.70,477.60 262.40,480.90 259.10,477.60" fill="#000"/>
<polygon points="260.20,503.50 263.50,506.80 260.20,510.10 256.90,506.80" fill="#000"/>
<polygon points="288.20,429.00 291.60,432.40 288.20,435.80 284.80,432.40" fill="#7030a0"/>
<polygon points="283.00,438.80 286.40,442.20 283.00,445.60 279.60,442.20" fill="#7030a0"/>
<polygon points="286.00,439.10 289.40,442.50 286.00,445.90 282.60,442.50" fill="#7030a0"/>
<polygon points="293.70,449.60 297.10,453.00 293.70,456.40 290.30,453.00" fill="#7030a0"/>
<polygon points="287.60,452.70 291.00,456.10 287.60,459.50 284.20,456.10" fill="#7030a0"/>
<polygon points="294.60,454.20 298.00,457.60 294.60,461.00 291.20,457.60" fill="#7030a0"/>
<line x1="256.20" y1="469.90" x2="256.20" y2="496.00" stroke="#7a7a7a" stroke-width="1.3"/>
<line x1="250.90" y1="469.90" x2="261.50" y2="469.90" stroke="#7a7a7a" stroke-width="1.3"/>
<line x1="250.90" y1="496.00" x2="261.50" y2="496.00" stroke="#7a7a7a" stroke-width="1.3"/>
<circle cx="256.2" cy="481.6" r="1.7" fill="#7a7a7a"/>
<line x1="288.20" y1="439.80" x2="288.20" y2="453.60" stroke="#7a7a7a" stroke-width="1.3"/>
<line x1="282.90" y1="439.80" x2="293.50" y2="439.80" stroke="#7a7a7a" stroke-width="1.3"/>
<line x1="282.90" y1="453.60" x2="293.50" y2="453.60" stroke="#7a7a7a" stroke-width="1.3"/>
<circle cx="288.2" cy="447.2" r="1.7" fill="#7a7a7a"/>
<text x="276.2" y="545.6" font-size="10.3" font-weight="400" fill="#111" text-anchor="end" transform="rotate(-25 276.2 545.6)">Untreated</text>
<text x="303.2" y="544.8" font-size="10.3" font-weight="400" fill="#111" text-anchor="end" transform="rotate(-25 303.2 544.8)">LAG-3</text>
<text x="327.8" y="382.4" font-size="12" font-weight="700" fill="#000" text-anchor="start">h</text>
<text x="419.8" y="393.5" font-size="9.7" font-weight="700" fill="#000" text-anchor="middle">Untreated</text>
<text x="522.2" y="394.6" font-size="9.7" font-weight="700" fill="#7030a0" text-anchor="middle">LAG-3</text>
<defs><clipPath id="hc1"><rect x="371" y="408.8" width="95" height="120"/></clipPath><clipPath id="hc2"><rect x="473" y="408.8" width="95" height="120"/></clipPath></defs>
<g clip-path="url(#hc1)">
<polyline points="386.80,359.98 417.60,511.68 448.20,523.47" fill="none" stroke="#bcbcbc" stroke-width="0.4" stroke-linejoin="round" stroke-opacity="0.6"/>
<circle cx="386.80" cy="359.98" r="0.4" fill="#777" fill-opacity="0.5"/>
<circle cx="417.60" cy="511.68" r="0.4" fill="#777" fill-opacity="0.5"/>
<circle cx="448.20" cy="523.47" r="0.4" fill="#777" fill-opacity="0.5"/>
<polyline points="386.80,400.07 417.60,515.61 448.20,524.26" fill="none" stroke="#bcbcbc" stroke-width="0.4" stroke-linejoin="round" stroke-opacity="0.6"/>
<circle cx="386.80" cy="400.07" r="0.4" fill="#777" fill-opacity="0.5"/>
<circle cx="417.60" cy="515.61" r="0.4" fill="#777" fill-opacity="0.5"/>
<circle cx="448.20" cy="524.26" r="0.4" fill="#777" fill-opacity="0.5"/>
<polyline points="386.80,403.21 417.60,513.25 448.20,522.68" fill="none" stroke="#bcbcbc" stroke-width="0.4" stroke-linejoin="round" stroke-opacity="0.6"/>
<circle cx="386.80" cy="403.21" r="0.4" fill="#777" fill-opacity="0.5"/>
<circle cx="417.60" cy="513.25" r="0.4" fill="#777" fill-opacity="0.5"/>
<circle cx="448.20" cy="522.68" r="0.4" fill="#777" fill-opacity="0.5"/>
<polyline points="386.80,406.36 417.60,517.97 448.20,525.04" fill="none" stroke="#bcbcbc" stroke-width="0.4" stroke-linejoin="round" stroke-opacity="0.6"/>
<circle cx="386.80" cy="406.36" r="0.4" fill="#777" fill-opacity="0.5"/>
<circle cx="417.60" cy="517.97" r="0.4" fill="#777" fill-opacity="0.5"/>
<circle cx="448.20" cy="525.04" r="0.4" fill="#777" fill-opacity="0.5"/>
<polyline points="386.80,448.01 417.60,517.97 448.20,522.68" fill="none" stroke="#bcbcbc" stroke-width="0.4" stroke-linejoin="round" stroke-opacity="0.6"/>
<circle cx="386.80" cy="448.01" r="0.4" fill="#777" fill-opacity="0.5"/>
<circle cx="417.60" cy="517.97" r="0.4" fill="#777" fill-opacity="0.5"/>
<circle cx="448.20" cy="522.68" r="0.4" fill="#777" fill-opacity="0.5"/>
<polyline points="386.80,471.59 417.60,491.24 448.20,510.89" fill="none" stroke="#bcbcbc" stroke-width="0.4" stroke-linejoin="round" stroke-opacity="0.6"/>
<circle cx="386.80" cy="471.59" r="0.4" fill="#777" fill-opacity="0.5"/>
<circle cx="417.60" cy="491.24" r="0.4" fill="#777" fill-opacity="0.5"/>
<circle cx="448.20" cy="510.89" r="0.4" fill="#777" fill-opacity="0.5"/>
<polyline points="386.80,480.24 417.60,515.61 448.20,521.11" fill="none" stroke="#bcbcbc" stroke-width="0.4" stroke-linejoin="round" stroke-opacity="0.6"/>
<circle cx="386.80" cy="480.24" r="0.4" fill="#777" fill-opacity="0.5"/>
<circle cx="417.60" cy="515.61" r="0.4" fill="#777" fill-opacity="0.5"/>
<circle cx="448.20" cy="521.11" r="0.4" fill="#777" fill-opacity="0.5"/>
<polyline points="386.80,486.53 417.60,521.00 448.20,521.24" fill="none" stroke="#bcbcbc" stroke-width="0.4" stroke-linejoin="round" stroke-opacity="0.6"/>
<circle cx="386.80" cy="486.53" r="0.4" fill="#777" fill-opacity="0.5"/>
<circle cx="417.60" cy="521.00" r="0.4" fill="#777" fill-opacity="0.5"/>
<circle cx="448.20" cy="521.24" r="0.4" fill="#777" fill-opacity="0.5"/>
<polyline points="386.80,490.46 417.60,514.32 448.20,522.28" fill="none" stroke="#bcbcbc" stroke-width="0.4" stroke-linejoin="round" stroke-opacity="0.6"/>
<circle cx="386.80" cy="490.46" r="0.4" fill="#777" fill-opacity="0.5"/>
<circle cx="417.60" cy="514.32" r="0.4" fill="#777" fill-opacity="0.5"/>
<circle cx="448.20" cy="522.28" r="0.4" fill="#777" fill-opacity="0.5"/>
<polyline points="386.80,493.60 417.60,520.22 448.20,520.94" fill="none" stroke="#bcbcbc" stroke-width="0.4" stroke-linejoin="round" stroke-opacity="0.6"/>
<circle cx="386.80" cy="493.60" r="0.4" fill="#777" fill-opacity="0.5"/>
<circle cx="417.60" cy="520.22" r="0.4" fill="#777" fill-opacity="0.5"/>
<circle cx="448.20" cy="520.94" r="0.4" fill="#777" fill-opacity="0.5"/>
<polyline points="386.80,495.96 417.60,524.79 448.20,521.77" fill="none" stroke="#bcbcbc" stroke-width="0.4" stroke-linejoin="round" stroke-opacity="0.6"/>
<circle cx="386.80" cy="495.96" r="0.4" fill="#777" fill-opacity="0.5"/>
<circle cx="417.60" cy="524.79" r="0.4" fill="#777" fill-opacity="0.5"/>
<circle cx="448.20" cy="521.77" r="0.4" fill="#777" fill-opacity="0.5"/>
<polyline points="386.80,498.32 417.60,518.49 448.20,518.67" fill="none" stroke="#bcbcbc" stroke-width="0.4" stroke-linejoin="round" stroke-opacity="0.6"/>
<circle cx="386.80" cy="498.32" r="0.4" fill="#777" fill-opacity="0.5"/>
<circle cx="417.60" cy="518.49" r="0.4" fill="#777" fill-opacity="0.5"/>
<circle cx="448.20" cy="518.67" r="0.4" fill="#777" fill-opacity="0.5"/>
<polyline points="386.80,500.68 417.60,526.07 448.20,524.06" fill="none" stroke="#bcbcbc" stroke-width="0.4" stroke-linejoin="round" stroke-opacity="0.6"/>
<circle cx="386.80" cy="500.68" r="0.4" fill="#777" fill-opacity="0.5"/>
<circle cx="417.60" cy="526.07" r="0.4" fill="#777" fill-opacity="0.5"/>
<circle cx="448.20" cy="524.06" r="0.4" fill="#777" fill-opacity="0.5"/>
<polyline points="386.80,503.03 417.60,526.12 448.20,518.49" fill="none" stroke="#bcbcbc" stroke-width="0.4" stroke-linejoin="round" stroke-opacity="0.6"/>
<circle cx="386.80" cy="503.03" r="0.4" fill="#777" fill-opacity="0.5"/>
<circle cx="417.60" cy="526.12" r="0.4" fill="#777" fill-opacity="0.5"/>
<circle cx="448.20" cy="518.49" r="0.4" fill="#777" fill-opacity="0.5"/>
<polyline points="386.80,504.61 417.60,517.59 448.20,526.94" fill="none" stroke="#bcbcbc" stroke-width="0.4" stroke-linejoin="round" stroke-opacity="0.6"/>
<circle cx="386.80" cy="504.61" r="0.4" fill="#777" fill-opacity="0.5"/>
<circle cx="417.60" cy="517.59" r="0.4" fill="#777" fill-opacity="0.5"/>
<circle cx="448.20" cy="526.94" r="0.4" fill="#777" fill-opacity="0.5"/>
<polyline points="386.80,506.18 417.60,513.50 448.20,516.78" fill="none" stroke="#bcbcbc" stroke-width="0.4" stroke-linejoin="round" stroke-opacity="0.6"/>
<circle cx="386.80" cy="506.18" r="0.4" fill="#777" fill-opacity="0.5"/>
<circle cx="417.60" cy="513.50" r="0.4" fill="#777" fill-opacity="0.5"/>
<circle cx="448.20" cy="516.78" r="0.4" fill="#777" fill-opacity="0.5"/>
<polyline points="386.80,507.75 417.60,518.15 448.20,520.63" fill="none" stroke="#bcbcbc" stroke-width="0.4" stroke-linejoin="round" stroke-opacity="0.6"/>
<circle cx="386.80" cy="507.75" r="0.4" fill="#777" fill-opacity="0.5"/>
<circle cx="417.60" cy="518.15" r="0.4" fill="#777" fill-opacity="0.5"/>
<circle cx="448.20" cy="520.63" r="0.4" fill="#777" fill-opacity="0.5"/>
<polyline points="386.80,509.32 417.60,525.17 448.20,527.23" fill="none" stroke="#bcbcbc" stroke-width="0.4" stroke-linejoin="round" stroke-opacity="0.6"/>
<circle cx="386.80" cy="509.32" r="0.4" fill="#777" fill-opacity="0.5"/>
<circle cx="417.60" cy="525.17" r="0.4" fill="#777" fill-opacity="0.5"/>
<circle cx="448.20" cy="527.23" r="0.4" fill="#777" fill-opacity="0.5"/>
<polyline points="386.80,510.89 417.60,519.92 448.20,526.74" fill="none" stroke="#bcbcbc" stroke-width="0.4" stroke-linejoin="round" stroke-opacity="0.6"/>
<circle cx="386.80" cy="510.89" r="0.4" fill="#777" fill-opacity="0.5"/>
<circle cx="417.60" cy="519.92" r="0.4" fill="#777" fill-opacity="0.5"/>
<circle cx="448.20" cy="526.74" r="0.4" fill="#777" fill-opacity="0.5"/>
<polyline points="386.80,512.47 417.60,524.71 448.20,524.74" fill="none" stroke="#bcbcbc" stroke-width="0.4" stroke-linejoin="round" stroke-opacity="0.6"/>
<circle cx="386.80" cy="512.47" r="0.4" fill="#777" fill-opacity="0.5"/>
<circle cx="417.60" cy="524.71" r="0.4" fill="#777" fill-opacity="0.5"/>
<circle cx="448.20" cy="524.74" r="0.4" fill="#777" fill-opacity="0.5"/>
<polyline points="386.80,514.04 417.60,526.97 448.20,522.29" fill="none" stroke="#bcbcbc" stroke-width="0.4" stroke-linejoin="round" stroke-opacity="0.6"/>
<circle cx="386.80" cy="514.04" r="0.4" fill="#777" fill-opacity="0.5"/>
<circle cx="417.60" cy="526.97" r="0.4" fill="#777" fill-opacity="0.5"/>
<circle cx="448.20" cy="522.29" r="0.4" fill="#777" fill-opacity="0.5"/>
<polyline points="386.80,514.82 417.60,521.17 448.20,518.13" fill="none" stroke="#bcbcbc" stroke-width="0.4" stroke-linejoin="round" stroke-opacity="0.6"/>
<circle cx="386.80" cy="514.82" r="0.4" fill="#777" fill-opacity="0.5"/>
<circle cx="417.60" cy="521.17" r="0.4" fill="#777" fill-opacity="0.5"/>
<circle cx="448.20" cy="518.13" r="0.4" fill="#777" fill-opacity="0.5"/>
<polyline points="386.80,515.61 417.60,520.06 448.20,520.35" fill="none" stroke="#bcbcbc" stroke-width="0.4" stroke-linejoin="round" stroke-opacity="0.6"/>
<circle cx="386.80" cy="515.61" r="0.4" fill="#777" fill-opacity="0.5"/>
<circle cx="417.60" cy="520.06" r="0.4" fill="#777" fill-opacity="0.5"/>
<circle cx="448.20" cy="520.35" r="0.4" fill="#777" fill-opacity="0.5"/>
<polyline points="386.80,516.40 417.60,520.33 448.20,520.11" fill="none" stroke="#bcbcbc" stroke-width="0.4" stroke-linejoin="round" stroke-opacity="0.6"/>
<circle cx="386.80" cy="516.40" r="0.4" fill="#777" fill-opacity="0.5"/>
<circle cx="417.60" cy="520.33" r="0.4" fill="#777" fill-opacity="0.5"/>
<circle cx="448.20" cy="520.11" r="0.4" fill="#777" fill-opacity="0.5"/>
<polyline points="386.80,517.18 417.60,520.93 448.20,524.34" fill="none" stroke="#bcbcbc" stroke-width="0.4" stroke-linejoin="round" stroke-opacity="0.6"/>
<circle cx="386.80" cy="517.18" r="0.4" fill="#777" fill-opacity="0.5"/>
<circle cx="417.60" cy="520.93" r="0.4" fill="#777" fill-opacity="0.5"/>
<circle cx="448.20" cy="524.34" r="0.4" fill="#777" fill-opacity="0.5"/>
<polyline points="386.80,517.97 417.60,513.29 448.20,516.44" fill="none" stroke="#bcbcbc" stroke-width="0.4" stroke-linejoin="round" stroke-opacity="0.6"/>
<circle cx="386.80" cy="517.97" r="0.4" fill="#777" fill-opacity="0.5"/>
<circle cx="417.60" cy="513.29" r="0.4" fill="#777" fill-opacity="0.5"/>
<circle cx="448.20" cy="516.44" r="0.4" fill="#777" fill-opacity="0.5"/>
<polyline points="386.80,518.75 417.60,515.51 448.20,519.61" fill="none" stroke="#bcbcbc" stroke-width="0.4" stroke-linejoin="round" stroke-opacity="0.6"/>
<circle cx="386.80" cy="518.75" r="0.4" fill="#777" fill-opacity="0.5"/>
<circle cx="417.60" cy="515.51" r="0.4" fill="#777" fill-opacity="0.5"/>
<circle cx="448.20" cy="519.61" r="0.4" fill="#777" fill-opacity="0.5"/>
<polyline points="386.80,519.54 417.60,522.94 448.20,524.87" fill="none" stroke="#bcbcbc" stroke-width="0.4" stroke-linejoin="round" stroke-opacity="0.6"/>
<circle cx="386.80" cy="519.54" r="0.4" fill="#777" fill-opacity="0.5"/>
<circle cx="417.60" cy="522.94" r="0.4" fill="#777" fill-opacity="0.5"/>
<circle cx="448.20" cy="524.87" r="0.4" fill="#777" fill-opacity="0.5"/>
<polyline points="386.80,520.33 417.60,523.31 448.20,526.63" fill="none" stroke="#bcbcbc" stroke-width="0.4" stroke-linejoin="round" stroke-opacity="0.6"/>
<circle cx="386.80" cy="520.33" r="0.4" fill="#777" fill-opacity="0.5"/>
<circle cx="417.60" cy="523.31" r="0.4" fill="#777" fill-opacity="0.5"/>
<circle cx="448.20" cy="526.63" r="0.4" fill="#777" fill-opacity="0.5"/>
<polyline points="386.80,521.11 417.60,516.56 448.20,522.99" fill="none" stroke="#bcbcbc" stroke-width="0.4" stroke-linejoin="round" stroke-opacity="0.6"/>
<circle cx="386.80" cy="521.11" r="0.4" fill="#777" fill-opacity="0.5"/>
<circle cx="417.60" cy="516.56" r="0.4" fill="#777" fill-opacity="0.5"/>
<circle cx="448.20" cy="522.99" r="0.4" fill="#777" fill-opacity="0.5"/>
<polyline points="386.80,521.90 417.60,515.42 448.20,523.15" fill="none" stroke="#bcbcbc" stroke-width="0.4" stroke-linejoin="round" stroke-opacity="0.6"/>
<circle cx="386.80" cy="521.90" r="0.4" fill="#777" fill-opacity="0.5"/>
<circle cx="417.60" cy="515.42" r="0.4" fill="#777" fill-opacity="0.5"/>
<circle cx="448.20" cy="523.15" r="0.4" fill="#777" fill-opacity="0.5"/>
<polyline points="386.80,522.68 417.60,513.85 448.20,518.08" fill="none" stroke="#bcbcbc" stroke-width="0.4" stroke-linejoin="round" stroke-opacity="0.6"/>
<circle cx="386.80" cy="522.68" r="0.4" fill="#777" fill-opacity="0.5"/>
<circle cx="417.60" cy="513.85" r="0.4" fill="#777" fill-opacity="0.5"/>
<circle cx="448.20" cy="518.08" r="0.4" fill="#777" fill-opacity="0.5"/>
<polyline points="386.80,523.47 417.60,527.39 448.20,525.09" fill="none" stroke="#bcbcbc" stroke-width="0.4" stroke-linejoin="round" stroke-opacity="0.6"/>
<circle cx="386.80" cy="523.47" r="0.4" fill="#777" fill-opacity="0.5"/>
<circle cx="417.60" cy="527.39" r="0.4" fill="#777" fill-opacity="0.5"/>
<circle cx="448.20" cy="525.09" r="0.4" fill="#777" fill-opacity="0.5"/>
<polyline points="386.80,524.26 417.60,514.52 448.20,522.23" fill="none" stroke="#bcbcbc" stroke-width="0.4" stroke-linejoin="round" stroke-opacity="0.6"/>
<circle cx="386.80" cy="524.26" r="0.4" fill="#777" fill-opacity="0.5"/>
<circle cx="417.60" cy="514.52" r="0.4" fill="#777" fill-opacity="0.5"/>
<circle cx="448.20" cy="522.23" r="0.4" fill="#777" fill-opacity="0.5"/>
<polyline points="386.80,525.04 417.60,513.53 448.20,523.03" fill="none" stroke="#bcbcbc" stroke-width="0.4" stroke-linejoin="round" stroke-opacity="0.6"/>
<circle cx="386.80" cy="525.04" r="0.4" fill="#777" fill-opacity="0.5"/>
<circle cx="417.60" cy="513.53" r="0.4" fill="#777" fill-opacity="0.5"/>
<circle cx="448.20" cy="523.03" r="0.4" fill="#777" fill-opacity="0.5"/>
<polyline points="386.80,499.89 417.60,507.75 448.20,517.97" fill="none" stroke="#bcbcbc" stroke-width="0.4" stroke-linejoin="round" stroke-opacity="0.6"/>
<circle cx="386.80" cy="499.89" r="0.4" fill="#777" fill-opacity="0.5"/>
<circle cx="417.60" cy="507.75" r="0.4" fill="#777" fill-opacity="0.5"/>
<circle cx="448.20" cy="517.97" r="0.4" fill="#777" fill-opacity="0.5"/>
<polyline points="386.80,492.03 417.60,511.68 448.20,519.54" fill="none" stroke="#bcbcbc" stroke-width="0.4" stroke-linejoin="round" stroke-opacity="0.6"/>
<circle cx="386.80" cy="492.03" r="0.4" fill="#777" fill-opacity="0.5"/>
<circle cx="417.60" cy="511.68" r="0.4" fill="#777" fill-opacity="0.5"/>
<circle cx="448.20" cy="519.54" r="0.4" fill="#777" fill-opacity="0.5"/>
<polyline points="386.80,513.25 417.60,522.68 448.20,517.18" fill="none" stroke="#7030a0" stroke-width="1.1" stroke-linejoin="round"/>
<circle cx="386.80" cy="513.25" r="2.2" fill="#7030a0"/>
<circle cx="417.60" cy="522.68" r="2.2" fill="#7030a0"/>
<circle cx="448.20" cy="517.18" r="2.2" fill="#7030a0"/>
<polyline points="386.80,521.11 417.60,525.83 448.20,524.26" fill="none" stroke="#7030a0" stroke-width="1.1" stroke-linejoin="round"/>
<circle cx="386.80" cy="521.11" r="2.2" fill="#7030a0"/>
<circle cx="417.60" cy="525.83" r="2.2" fill="#7030a0"/>
<circle cx="448.20" cy="524.26" r="2.2" fill="#7030a0"/>
<polyline points="386.80,522.68 417.60,526.61 448.20,525.04" fill="none" stroke="#7030a0" stroke-width="1.1" stroke-linejoin="round"/>
<circle cx="386.80" cy="522.68" r="2.2" fill="#7030a0"/>
<circle cx="417.60" cy="526.61" r="2.2" fill="#7030a0"/>
<circle cx="448.20" cy="525.04" r="2.2" fill="#7030a0"/>
<polyline points="386.80,524.26 417.60,526.61 448.20,525.83" fill="none" stroke="#7030a0" stroke-width="1.1" stroke-linejoin="round"/>
<circle cx="386.80" cy="524.26" r="2.2" fill="#7030a0"/>
<circle cx="417.60" cy="526.61" r="2.2" fill="#7030a0"/>
<circle cx="448.20" cy="525.83" r="2.2" fill="#7030a0"/>
<polyline points="386.80,525.04 417.60,527.01 448.20,526.61" fill="none" stroke="#7030a0" stroke-width="1.1" stroke-linejoin="round"/>
<circle cx="386.80" cy="525.04" r="2.2" fill="#7030a0"/>
<circle cx="417.60" cy="527.01" r="2.2" fill="#7030a0"/>
<circle cx="448.20" cy="526.61" r="2.2" fill="#7030a0"/>
<polyline points="386.80,525.83 417.60,527.16 448.20,527.01" fill="none" stroke="#7030a0" stroke-width="1.1" stroke-linejoin="round"/>
<circle cx="386.80" cy="525.83" r="2.2" fill="#7030a0"/>
<circle cx="417.60" cy="527.16" r="2.2" fill="#7030a0"/>
<circle cx="448.20" cy="527.01" r="2.2" fill="#7030a0"/>
<polyline points="386.80,521.90 417.60,526.22 448.20,525.43" fill="none" stroke="#7030a0" stroke-width="1.1" stroke-linejoin="round"/>
<circle cx="386.80" cy="521.90" r="2.2" fill="#7030a0"/>
<circle cx="417.60" cy="526.22" r="2.2" fill="#7030a0"/>
<circle cx="448.20" cy="525.43" r="2.2" fill="#7030a0"/>
</g>
<line x1="371.30" y1="409.00" x2="371.30" y2="528.00" stroke="#a0a0a0" stroke-width="1.2"/>
<line x1="370.70" y1="527.40" x2="463.80" y2="527.40" stroke="#a0a0a0" stroke-width="1.2"/>
<line x1="386.80" y1="527.40" x2="386.80" y2="529.60" stroke="#8c8c8c" stroke-width="0.7"/>
<line x1="417.60" y1="527.40" x2="417.60" y2="529.60" stroke="#8c8c8c" stroke-width="0.7"/>
<line x1="448.20" y1="527.40" x2="448.20" y2="529.60" stroke="#8c8c8c" stroke-width="0.7"/>
<text x="386.8" y="538.6" font-size="10" font-weight="400" fill="#111" text-anchor="middle">14</text>
<text x="417.6" y="538.6" font-size="10" font-weight="400" fill="#111" text-anchor="middle">21</text>
<text x="448.2" y="538.6" font-size="10" font-weight="400" fill="#111" text-anchor="middle">28</text>
<g clip-path="url(#hc2)">
<polyline points="488.40,408.71 519.50,513.25 550.60,519.54" fill="none" stroke="#bcbcbc" stroke-width="0.4" stroke-linejoin="round" stroke-opacity="0.6"/>
<circle cx="488.40" cy="408.71" r="0.4" fill="#777" fill-opacity="0.5"/>
<circle cx="519.50" cy="513.25" r="0.4" fill="#777" fill-opacity="0.5"/>
<circle cx="550.60" cy="519.54" r="0.4" fill="#777" fill-opacity="0.5"/>
<polyline points="488.40,425.22 519.50,511.68 550.60,524.26" fill="none" stroke="#bcbcbc" stroke-width="0.4" stroke-linejoin="round" stroke-opacity="0.6"/>
<circle cx="488.40" cy="425.22" r="0.4" fill="#777" fill-opacity="0.5"/>
<circle cx="519.50" cy="511.68" r="0.4" fill="#777" fill-opacity="0.5"/>
<circle cx="550.60" cy="524.26" r="0.4" fill="#777" fill-opacity="0.5"/>
<polyline points="488.40,431.51 519.50,516.40 550.60,522.68" fill="none" stroke="#bcbcbc" stroke-width="0.4" stroke-linejoin="round" stroke-opacity="0.6"/>
<circle cx="488.40" cy="431.51" r="0.4" fill="#777" fill-opacity="0.5"/>
<circle cx="519.50" cy="516.40" r="0.4" fill="#777" fill-opacity="0.5"/>
<circle cx="550.60" cy="522.68" r="0.4" fill="#777" fill-opacity="0.5"/>
<polyline points="488.40,440.94 519.50,517.97 550.60,523.47" fill="none" stroke="#bcbcbc" stroke-width="0.4" stroke-linejoin="round" stroke-opacity="0.6"/>
<circle cx="488.40" cy="440.94" r="0.4" fill="#777" fill-opacity="0.5"/>
<circle cx="519.50" cy="517.97" r="0.4" fill="#777" fill-opacity="0.5"/>
<circle cx="550.60" cy="523.47" r="0.4" fill="#777" fill-opacity="0.5"/>
<polyline points="488.40,450.37 519.50,511.68 550.60,521.11" fill="none" stroke="#bcbcbc" stroke-width="0.4" stroke-linejoin="round" stroke-opacity="0.6"/>
<circle cx="488.40" cy="450.37" r="0.4" fill="#777" fill-opacity="0.5"/>
<circle cx="519.50" cy="511.68" r="0.4" fill="#777" fill-opacity="0.5"/>
<circle cx="550.60" cy="521.11" r="0.4" fill="#777" fill-opacity="0.5"/>
<polyline points="488.40,462.16 519.50,514.82 550.60,525.04" fill="none" stroke="#bcbcbc" stroke-width="0.4" stroke-linejoin="round" stroke-opacity="0.6"/>
<circle cx="488.40" cy="462.16" r="0.4" fill="#777" fill-opacity="0.5"/>
<circle cx="519.50" cy="514.82" r="0.4" fill="#777" fill-opacity="0.5"/>
<circle cx="550.60" cy="525.04" r="0.4" fill="#777" fill-opacity="0.5"/>
<polyline points="488.40,466.09 519.50,517.97 550.60,522.68" fill="none" stroke="#bcbcbc" stroke-width="0.4" stroke-linejoin="round" stroke-opacity="0.6"/>
<circle cx="488.40" cy="466.09" r="0.4" fill="#777" fill-opacity="0.5"/>
<circle cx="519.50" cy="517.97" r="0.4" fill="#777" fill-opacity="0.5"/>
<circle cx="550.60" cy="522.68" r="0.4" fill="#777" fill-opacity="0.5"/>
<polyline points="488.40,472.38 519.50,511.68 550.60,524.26" fill="none" stroke="#bcbcbc" stroke-width="0.4" stroke-linejoin="round" stroke-opacity="0.6"/>
<circle cx="488.40" cy="472.38" r="0.4" fill="#777" fill-opacity="0.5"/>
<circle cx="519.50" cy="511.68" r="0.4" fill="#777" fill-opacity="0.5"/>
<circle cx="550.60" cy="524.26" r="0.4" fill="#777" fill-opacity="0.5"/>
<polyline points="488.40,475.52 519.50,516.40 550.60,520.33" fill="none" stroke="#bcbcbc" stroke-width="0.4" stroke-linejoin="round" stroke-opacity="0.6"/>
<circle cx="488.40" cy="475.52" r="0.4" fill="#777" fill-opacity="0.5"/>
<circle cx="519.50" cy="516.40" r="0.4" fill="#777" fill-opacity="0.5"/>
<circle cx="550.60" cy="520.33" r="0.4" fill="#777" fill-opacity="0.5"/>
<polyline points="488.40,480.24 519.50,519.54 550.60,523.47" fill="none" stroke="#bcbcbc" stroke-width="0.4" stroke-linejoin="round" stroke-opacity="0.6"/>
<circle cx="488.40" cy="480.24" r="0.4" fill="#777" fill-opacity="0.5"/>
<circle cx="519.50" cy="519.54" r="0.4" fill="#777" fill-opacity="0.5"/>
<circle cx="550.60" cy="523.47" r="0.4" fill="#777" fill-opacity="0.5"/>
<polyline points="488.40,483.38 519.50,526.14 550.60,519.48" fill="none" stroke="#bcbcbc" stroke-width="0.4" stroke-linejoin="round" stroke-opacity="0.6"/>
<circle cx="488.40" cy="483.38" r="0.4" fill="#777" fill-opacity="0.5"/>
<circle cx="519.50" cy="526.14" r="0.4" fill="#777" fill-opacity="0.5"/>
<circle cx="550.60" cy="519.48" r="0.4" fill="#777" fill-opacity="0.5"/>
<polyline points="488.40,485.74 519.50,513.94 550.60,524.01" fill="none" stroke="#bcbcbc" stroke-width="0.4" stroke-linejoin="round" stroke-opacity="0.6"/>
<circle cx="488.40" cy="485.74" r="0.4" fill="#777" fill-opacity="0.5"/>
<circle cx="519.50" cy="513.94" r="0.4" fill="#777" fill-opacity="0.5"/>
<circle cx="550.60" cy="524.01" r="0.4" fill="#777" fill-opacity="0.5"/>
<polyline points="488.40,488.10 519.50,525.89 550.60,523.22" fill="none" stroke="#bcbcbc" stroke-width="0.4" stroke-linejoin="round" stroke-opacity="0.6"/>
<circle cx="488.40" cy="488.10" r="0.4" fill="#777" fill-opacity="0.5"/>
<circle cx="519.50" cy="525.89" r="0.4" fill="#777" fill-opacity="0.5"/>
<circle cx="550.60" cy="523.22" r="0.4" fill="#777" fill-opacity="0.5"/>
<polyline points="488.40,490.46 519.50,510.73 550.60,517.87" fill="none" stroke="#bcbcbc" stroke-width="0.4" stroke-linejoin="round" stroke-opacity="0.6"/>
<circle cx="488.40" cy="490.46" r="0.4" fill="#777" fill-opacity="0.5"/>
<circle cx="519.50" cy="510.73" r="0.4" fill="#777" fill-opacity="0.5"/>
<circle cx="550.60" cy="517.87" r="0.4" fill="#777" fill-opacity="0.5"/>
<polyline points="488.40,492.03 519.50,525.36 550.60,524.30" fill="none" stroke="#bcbcbc" stroke-width="0.4" stroke-linejoin="round" stroke-opacity="0.6"/>
<circle cx="488.40" cy="492.03" r="0.4" fill="#777" fill-opacity="0.5"/>
<circle cx="519.50" cy="525.36" r="0.4" fill="#777" fill-opacity="0.5"/>
<circle cx="550.60" cy="524.30" r="0.4" fill="#777" fill-opacity="0.5"/>
<polyline points="488.40,494.39 519.50,525.65 550.60,526.65" fill="none" stroke="#bcbcbc" stroke-width="0.4" stroke-linejoin="round" stroke-opacity="0.6"/>
<circle cx="488.40" cy="494.39" r="0.4" fill="#777" fill-opacity="0.5"/>
<circle cx="519.50" cy="525.65" r="0.4" fill="#777" fill-opacity="0.5"/>
<circle cx="550.60" cy="526.65" r="0.4" fill="#777" fill-opacity="0.5"/>
<polyline points="488.40,495.96 519.50,513.62 550.60,525.17" fill="none" stroke="#bcbcbc" stroke-width="0.4" stroke-linejoin="round" stroke-opacity="0.6"/>
<circle cx="488.40" cy="495.96" r="0.4" fill="#777" fill-opacity="0.5"/>
<circle cx="519.50" cy="513.62" r="0.4" fill="#777" fill-opacity="0.5"/>
<circle cx="550.60" cy="525.17" r="0.4" fill="#777" fill-opacity="0.5"/>
<polyline points="488.40,498.32 519.50,517.73 550.60,521.77" fill="none" stroke="#bcbcbc" stroke-width="0.4" stroke-linejoin="round" stroke-opacity="0.6"/>
<circle cx="488.40" cy="498.32" r="0.4" fill="#777" fill-opacity="0.5"/>
<circle cx="519.50" cy="517.73" r="0.4" fill="#777" fill-opacity="0.5"/>
<circle cx="550.60" cy="521.77" r="0.4" fill="#777" fill-opacity="0.5"/>
<polyline points="488.40,499.89 519.50,524.10 550.60,518.20" fill="none" stroke="#bcbcbc" stroke-width="0.4" stroke-linejoin="round" stroke-opacity="0.6"/>
<circle cx="488.40" cy="499.89" r="0.4" fill="#777" fill-opacity="0.5"/>
<circle cx="519.50" cy="524.10" r="0.4" fill="#777" fill-opacity="0.5"/>
<circle cx="550.60" cy="518.20" r="0.4" fill="#777" fill-opacity="0.5"/>
<polyline points="488.40,502.25 519.50,525.14 550.60,519.30" fill="none" stroke="#bcbcbc" stroke-width="0.4" stroke-linejoin="round" stroke-opacity="0.6"/>
<circle cx="488.40" cy="502.25" r="0.4" fill="#777" fill-opacity="0.5"/>
<circle cx="519.50" cy="525.14" r="0.4" fill="#777" fill-opacity="0.5"/>
<circle cx="550.60" cy="519.30" r="0.4" fill="#777" fill-opacity="0.5"/>
<polyline points="488.40,503.82 519.50,525.39 550.60,522.11" fill="none" stroke="#bcbcbc" stroke-width="0.4" stroke-linejoin="round" stroke-opacity="0.6"/>
<circle cx="488.40" cy="503.82" r="0.4" fill="#777" fill-opacity="0.5"/>
<circle cx="519.50" cy="525.39" r="0.4" fill="#777" fill-opacity="0.5"/>
<circle cx="550.60" cy="522.11" r="0.4" fill="#777" fill-opacity="0.5"/>
<polyline points="488.40,505.39 519.50,523.72 550.60,524.01" fill="none" stroke="#bcbcbc" stroke-width="0.4" stroke-linejoin="round" stroke-opacity="0.6"/>
<circle cx="488.40" cy="505.39" r="0.4" fill="#777" fill-opacity="0.5"/>
<circle cx="519.50" cy="523.72" r="0.4" fill="#777" fill-opacity="0.5"/>
<circle cx="550.60" cy="524.01" r="0.4" fill="#777" fill-opacity="0.5"/>
<polyline points="488.40,506.96 519.50,510.61 550.60,517.30" fill="none" stroke="#bcbcbc" stroke-width="0.4" stroke-linejoin="round" stroke-opacity="0.6"/>
<circle cx="488.40" cy="506.96" r="0.4" fill="#777" fill-opacity="0.5"/>
<circle cx="519.50" cy="510.61" r="0.4" fill="#777" fill-opacity="0.5"/>
<circle cx="550.60" cy="517.30" r="0.4" fill="#777" fill-opacity="0.5"/>
<polyline points="488.40,508.54 519.50,522.14 550.60,516.27" fill="none" stroke="#bcbcbc" stroke-width="0.4" stroke-linejoin="round" stroke-opacity="0.6"/>
<circle cx="488.40" cy="508.54" r="0.4" fill="#777" fill-opacity="0.5"/>
<circle cx="519.50" cy="522.14" r="0.4" fill="#777" fill-opacity="0.5"/>
<circle cx="550.60" cy="516.27" r="0.4" fill="#777" fill-opacity="0.5"/>
<polyline points="488.40,510.11 519.50,523.76 550.60,522.44" fill="none" stroke="#bcbcbc" stroke-width="0.4" stroke-linejoin="round" stroke-opacity="0.6"/>
<circle cx="488.40" cy="510.11" r="0.4" fill="#777" fill-opacity="0.5"/>
<circle cx="519.50" cy="523.76" r="0.4" fill="#777" fill-opacity="0.5"/>
<circle cx="550.60" cy="522.44" r="0.4" fill="#777" fill-opacity="0.5"/>
<polyline points="488.40,511.68 519.50,512.63 550.60,519.33" fill="none" stroke="#bcbcbc" stroke-width="0.4" stroke-linejoin="round" stroke-opacity="0.6"/>
<circle cx="488.40" cy="511.68" r="0.4" fill="#777" fill-opacity="0.5"/>
<circle cx="519.50" cy="512.63" r="0.4" fill="#777" fill-opacity="0.5"/>
<circle cx="550.60" cy="519.33" r="0.4" fill="#777" fill-opacity="0.5"/>
<polyline points="488.40,513.25 519.50,525.67 550.60,514.96" fill="none" stroke="#bcbcbc" stroke-width="0.4" stroke-linejoin="round" stroke-opacity="0.6"/>
<circle cx="488.40" cy="513.25" r="0.4" fill="#777" fill-opacity="0.5"/>
<circle cx="519.50" cy="525.67" r="0.4" fill="#777" fill-opacity="0.5"/>
<circle cx="550.60" cy="514.96" r="0.4" fill="#777" fill-opacity="0.5"/>
<polyline points="488.40,514.82 519.50,523.71 550.60,524.15" fill="none" stroke="#bcbcbc" stroke-width="0.4" stroke-linejoin="round" stroke-opacity="0.6"/>
<circle cx="488.40" cy="514.82" r="0.4" fill="#777" fill-opacity="0.5"/>
<circle cx="519.50" cy="523.71" r="0.4" fill="#777" fill-opacity="0.5"/>
<circle cx="550.60" cy="524.15" r="0.4" fill="#777" fill-opacity="0.5"/>
<polyline points="488.40,516.40 519.50,514.04 550.60,523.26" fill="none" stroke="#bcbcbc" stroke-width="0.4" stroke-linejoin="round" stroke-opacity="0.6"/>
<circle cx="488.40" cy="516.40" r="0.4" fill="#777" fill-opacity="0.5"/>
<circle cx="519.50" cy="514.04" r="0.4" fill="#777" fill-opacity="0.5"/>
<circle cx="550.60" cy="523.26" r="0.4" fill="#777" fill-opacity="0.5"/>
<polyline points="488.40,517.97 519.50,522.28 550.60,526.48" fill="none" stroke="#bcbcbc" stroke-width="0.4" stroke-linejoin="round" stroke-opacity="0.6"/>
<circle cx="488.40" cy="517.97" r="0.4" fill="#777" fill-opacity="0.5"/>
<circle cx="519.50" cy="522.28" r="0.4" fill="#777" fill-opacity="0.5"/>
<circle cx="550.60" cy="526.48" r="0.4" fill="#777" fill-opacity="0.5"/>
<polyline points="488.40,519.54 519.50,525.84 550.60,520.07" fill="none" stroke="#bcbcbc" stroke-width="0.4" stroke-linejoin="round" stroke-opacity="0.6"/>
<circle cx="488.40" cy="519.54" r="0.4" fill="#777" fill-opacity="0.5"/>
<circle cx="519.50" cy="525.84" r="0.4" fill="#777" fill-opacity="0.5"/>
<circle cx="550.60" cy="520.07" r="0.4" fill="#777" fill-opacity="0.5"/>
<polyline points="488.40,521.11 519.50,523.20 550.60,519.84" fill="none" stroke="#bcbcbc" stroke-width="0.4" stroke-linejoin="round" stroke-opacity="0.6"/>
<circle cx="488.40" cy="521.11" r="0.4" fill="#777" fill-opacity="0.5"/>
<circle cx="519.50" cy="523.20" r="0.4" fill="#777" fill-opacity="0.5"/>
<circle cx="550.60" cy="519.84" r="0.4" fill="#777" fill-opacity="0.5"/>
<polyline points="488.40,522.68 519.50,520.97 550.60,521.70" fill="none" stroke="#bcbcbc" stroke-width="0.4" stroke-linejoin="round" stroke-opacity="0.6"/>
<circle cx="488.40" cy="522.68" r="0.4" fill="#777" fill-opacity="0.5"/>
<circle cx="519.50" cy="520.97" r="0.4" fill="#777" fill-opacity="0.5"/>
<circle cx="550.60" cy="521.70" r="0.4" fill="#777" fill-opacity="0.5"/>
<polyline points="488.40,524.26 519.50,510.81 550.60,521.32" fill="none" stroke="#bcbcbc" stroke-width="0.4" stroke-linejoin="round" stroke-opacity="0.6"/>
<circle cx="488.40" cy="524.26" r="0.4" fill="#777" fill-opacity="0.5"/>
<circle cx="519.50" cy="510.81" r="0.4" fill="#777" fill-opacity="0.5"/>
<circle cx="550.60" cy="521.32" r="0.4" fill="#777" fill-opacity="0.5"/>
<polyline points="488.40,498.32 519.50,509.32 550.60,473.95" fill="none" stroke="#7030a0" stroke-width="1.1" stroke-linejoin="round"/>
<circle cx="488.40" cy="498.32" r="2.2" fill="#7030a0"/>
<circle cx="519.50" cy="509.32" r="2.2" fill="#7030a0"/>
<circle cx="550.60" cy="473.95" r="2.2" fill="#7030a0"/>
<polyline points="488.40,504.61 519.50,515.61 550.60,474.74" fill="none" stroke="#7030a0" stroke-width="1.1" stroke-linejoin="round"/>
<circle cx="488.40" cy="504.61" r="2.2" fill="#7030a0"/>
<circle cx="519.50" cy="515.61" r="2.2" fill="#7030a0"/>
<circle cx="550.60" cy="474.74" r="2.2" fill="#7030a0"/>
<polyline points="488.40,509.32 519.50,517.97 550.60,499.89" fill="none" stroke="#7030a0" stroke-width="1.1" stroke-linejoin="round"/>
<circle cx="488.40" cy="509.32" r="2.2" fill="#7030a0"/>
<circle cx="519.50" cy="517.97" r="2.2" fill="#7030a0"/>
<circle cx="550.60" cy="499.89" r="2.2" fill="#7030a0"/>
<polyline points="488.40,511.68 519.50,522.68 550.60,506.18" fill="none" stroke="#7030a0" stroke-width="1.1" stroke-linejoin="round"/>
<circle cx="488.40" cy="511.68" r="2.2" fill="#7030a0"/>
<circle cx="519.50" cy="522.68" r="2.2" fill="#7030a0"/>
<circle cx="550.60" cy="506.18" r="2.2" fill="#7030a0"/>
<polyline points="488.40,517.18 519.50,524.26 550.60,508.54" fill="none" stroke="#7030a0" stroke-width="1.1" stroke-linejoin="round"/>
<circle cx="488.40" cy="517.18" r="2.2" fill="#7030a0"/>
<circle cx="519.50" cy="524.26" r="2.2" fill="#7030a0"/>
<circle cx="550.60" cy="508.54" r="2.2" fill="#7030a0"/>
<polyline points="488.40,518.75 519.50,525.04 550.60,512.47" fill="none" stroke="#7030a0" stroke-width="1.1" stroke-linejoin="round"/>
<circle cx="488.40" cy="518.75" r="2.2" fill="#7030a0"/>
<circle cx="519.50" cy="525.04" r="2.2" fill="#7030a0"/>
<circle cx="550.60" cy="512.47" r="2.2" fill="#7030a0"/>
<polyline points="488.40,520.33 519.50,525.83 550.60,519.54" fill="none" stroke="#7030a0" stroke-width="1.1" stroke-linejoin="round"/>
<circle cx="488.40" cy="520.33" r="2.2" fill="#7030a0"/>
<circle cx="519.50" cy="525.83" r="2.2" fill="#7030a0"/>
<circle cx="550.60" cy="519.54" r="2.2" fill="#7030a0"/>
<polyline points="488.40,521.11 519.50,523.47 550.60,522.68" fill="none" stroke="#7030a0" stroke-width="1.1" stroke-linejoin="round"/>
<circle cx="488.40" cy="521.11" r="2.2" fill="#7030a0"/>
<circle cx="519.50" cy="523.47" r="2.2" fill="#7030a0"/>
<circle cx="550.60" cy="522.68" r="2.2" fill="#7030a0"/>
<polyline points="488.40,522.68 519.50,525.83 550.60,521.11" fill="none" stroke="#7030a0" stroke-width="1.1" stroke-linejoin="round"/>
<circle cx="488.40" cy="522.68" r="2.2" fill="#7030a0"/>
<circle cx="519.50" cy="525.83" r="2.2" fill="#7030a0"/>
<circle cx="550.60" cy="521.11" r="2.2" fill="#7030a0"/>
<polyline points="488.40,523.47 519.50,526.61 550.60,524.26" fill="none" stroke="#7030a0" stroke-width="1.1" stroke-linejoin="round"/>
<circle cx="488.40" cy="523.47" r="2.2" fill="#7030a0"/>
<circle cx="519.50" cy="526.61" r="2.2" fill="#7030a0"/>
<circle cx="550.60" cy="524.26" r="2.2" fill="#7030a0"/>
<polyline points="488.40,524.26 519.50,525.83 550.60,525.04" fill="none" stroke="#7030a0" stroke-width="1.1" stroke-linejoin="round"/>
<circle cx="488.40" cy="524.26" r="2.2" fill="#7030a0"/>
<circle cx="519.50" cy="525.83" r="2.2" fill="#7030a0"/>
<circle cx="550.60" cy="525.04" r="2.2" fill="#7030a0"/>
<polyline points="488.40,525.04 519.50,526.61 550.60,525.83" fill="none" stroke="#7030a0" stroke-width="1.1" stroke-linejoin="round"/>
<circle cx="488.40" cy="525.04" r="2.2" fill="#7030a0"/>
<circle cx="519.50" cy="526.61" r="2.2" fill="#7030a0"/>
<circle cx="550.60" cy="525.83" r="2.2" fill="#7030a0"/>
<polyline points="488.40,525.83 519.50,527.01 550.60,523.47" fill="none" stroke="#7030a0" stroke-width="1.1" stroke-linejoin="round"/>
<circle cx="488.40" cy="525.83" r="2.2" fill="#7030a0"/>
<circle cx="519.50" cy="527.01" r="2.2" fill="#7030a0"/>
<circle cx="550.60" cy="523.47" r="2.2" fill="#7030a0"/>
<polyline points="488.40,526.61 519.50,526.77 550.60,526.61" fill="none" stroke="#7030a0" stroke-width="1.1" stroke-linejoin="round"/>
<circle cx="488.40" cy="526.61" r="2.2" fill="#7030a0"/>
<circle cx="519.50" cy="526.77" r="2.2" fill="#7030a0"/>
<circle cx="550.60" cy="526.61" r="2.2" fill="#7030a0"/>
<polyline points="488.40,526.22 519.50,525.04 550.60,526.22" fill="none" stroke="#7030a0" stroke-width="1.1" stroke-linejoin="round"/>
<circle cx="488.40" cy="526.22" r="2.2" fill="#7030a0"/>
<circle cx="519.50" cy="525.04" r="2.2" fill="#7030a0"/>
<circle cx="550.60" cy="526.22" r="2.2" fill="#7030a0"/>
<polyline points="488.40,521.90 519.50,526.61 550.60,525.04" fill="none" stroke="#7030a0" stroke-width="1.1" stroke-linejoin="round"/>
<circle cx="488.40" cy="521.90" r="2.2" fill="#7030a0"/>
<circle cx="519.50" cy="526.61" r="2.2" fill="#7030a0"/>
<circle cx="550.60" cy="525.04" r="2.2" fill="#7030a0"/>
</g>
<line x1="473.00" y1="409.00" x2="473.00" y2="528.00" stroke="#a0a0a0" stroke-width="1.2"/>
<line x1="472.40" y1="527.40" x2="565.00" y2="527.40" stroke="#a0a0a0" stroke-width="1.2"/>
<line x1="488.40" y1="527.40" x2="488.40" y2="529.60" stroke="#8c8c8c" stroke-width="0.7"/>
<line x1="519.50" y1="527.40" x2="519.50" y2="529.60" stroke="#8c8c8c" stroke-width="0.7"/>
<line x1="550.60" y1="527.40" x2="550.60" y2="529.60" stroke="#8c8c8c" stroke-width="0.7"/>
<text x="488.4" y="538.6" font-size="10" font-weight="400" fill="#111" text-anchor="middle">14</text>
<text x="519.5" y="538.6" font-size="10" font-weight="400" fill="#111" text-anchor="middle">21</text>
<text x="550.6" y="538.6" font-size="10" font-weight="400" fill="#111" text-anchor="middle">28</text>
<line x1="369.10" y1="409.50" x2="371.30" y2="409.50" stroke="#8c8c8c" stroke-width="0.7"/>
<text x="367.4" y="413.1" font-size="10" font-weight="400" fill="#111" text-anchor="end">0.15</text>
<line x1="369.10" y1="448.80" x2="371.30" y2="448.80" stroke="#8c8c8c" stroke-width="0.7"/>
<text x="367.4" y="452.4" font-size="10" font-weight="400" fill="#111" text-anchor="end">0.1</text>
<line x1="369.10" y1="488.10" x2="371.30" y2="488.10" stroke="#8c8c8c" stroke-width="0.7"/>
<text x="367.4" y="491.7" font-size="10" font-weight="400" fill="#111" text-anchor="end">0.05</text>
<line x1="369.10" y1="527.40" x2="371.30" y2="527.40" stroke="#8c8c8c" stroke-width="0.7"/>
<text x="367.4" y="531.0" font-size="10" font-weight="400" fill="#111" text-anchor="end">0</text>
<text x="333.7" y="468.0" font-size="10" font-weight="400" fill="#000" text-anchor="middle" transform="rotate(-90 333.7 468.0)">Frequency</text>
<text x="466.0" y="557.7" font-size="10" font-weight="400" fill="#000" text-anchor="middle">Day</text>
<text x="570.2" y="381.9" font-size="12" font-weight="700" fill="#000" text-anchor="start">i</text>
<line x1="607.70" y1="407.00" x2="607.70" y2="521.00" stroke="#8c8c8c" stroke-width="0.9"/>
<line x1="607.30" y1="520.70" x2="636.20" y2="520.70" stroke="#8c8c8c" stroke-width="0.9"/>
<line x1="605.50" y1="521.50" x2="607.70" y2="521.50" stroke="#8c8c8c" stroke-width="0.7"/>
<text x="604.0" y="525.1" font-size="10" font-weight="400" fill="#111" text-anchor="end">1</text>
<line x1="605.50" y1="499.60" x2="607.70" y2="499.60" stroke="#8c8c8c" stroke-width="0.7"/>
<text x="604.0" y="503.20000000000005" font-size="10" font-weight="400" fill="#111" text-anchor="end">2</text>
<line x1="605.50" y1="477.70" x2="607.70" y2="477.70" stroke="#8c8c8c" stroke-width="0.7"/>
<text x="604.0" y="481.3" font-size="10" font-weight="400" fill="#111" text-anchor="end">4</text>
<line x1="605.50" y1="455.80" x2="607.70" y2="455.80" stroke="#8c8c8c" stroke-width="0.7"/>
<text x="604.0" y="459.40000000000003" font-size="10" font-weight="400" fill="#111" text-anchor="end">8</text>
<line x1="605.50" y1="433.90" x2="607.70" y2="433.90" stroke="#8c8c8c" stroke-width="0.7"/>
<text x="604.0" y="437.5" font-size="10" font-weight="400" fill="#111" text-anchor="end">16</text>
<line x1="605.50" y1="412.00" x2="607.70" y2="412.00" stroke="#8c8c8c" stroke-width="0.7"/>
<text x="604.0" y="415.6" font-size="10" font-weight="400" fill="#111" text-anchor="end">32</text>
<text x="580.2" y="464.6" font-size="10.4" font-weight="400" fill="#000" text-anchor="middle" transform="rotate(-90 580.2 464.6)">Expansion from day 21</text>
<polygon points="621.90,408.30 625.40,411.80 621.90,415.30 618.40,411.80" fill="#7030a0"/>
<polygon points="623.90,439.90 627.40,443.40 623.90,446.90 620.40,443.40" fill="#7030a0"/>
<polygon points="627.00,451.20 630.50,454.70 627.00,458.20 623.50,454.70" fill="#7030a0"/>
<polygon points="620.40,456.90 623.90,460.40 620.40,463.90 616.90,460.40" fill="#7030a0"/>
<polygon points="624.70,457.50 628.20,461.00 624.70,464.50 621.20,461.00" fill="#7030a0"/>
<polygon points="620.40,468.90 623.90,472.40 620.40,475.90 616.90,472.40" fill="#7030a0"/>
<polygon points="624.10,468.30 627.60,471.80 624.10,475.30 620.60,471.80" fill="#7030a0"/>
<polygon points="616.70,474.50 620.20,478.00 616.70,481.50 613.20,478.00" fill="#7030a0"/>
<polygon points="622.70,475.10 626.20,478.60 622.70,482.10 619.20,478.60" fill="#7030a0"/>
<polygon points="620.80,471.00 624.30,474.50 620.80,478.00 617.30,474.50" fill="#7030a0"/>
<polygon points="627.60,483.10 631.10,486.60 627.60,490.10 624.10,486.60" fill="#7030a0"/>
<polygon points="621.00,483.10 624.50,486.60 621.00,490.10 617.50,486.60" fill="#7030a0"/>
<polygon points="619.00,488.20 622.50,491.70 619.00,495.20 615.50,491.70" fill="#7030a0"/>
<polygon points="618.50,492.50 622.00,496.00 618.50,499.50 615.00,496.00" fill="#7030a0"/>
<polygon points="616.70,503.80 620.20,507.30 616.70,510.80 613.20,507.30" fill="#7030a0"/>
<polygon points="620.40,504.40 623.90,507.90 620.40,511.40 616.90,507.90" fill="#7030a0"/>
<polygon points="623.90,505.00 627.40,508.50 623.90,512.00 620.40,508.50" fill="#7030a0"/>
<polygon points="620.00,485.50 623.50,489.00 620.00,492.50 616.50,489.00" fill="#7030a0"/>
</svg>
</body></html>
